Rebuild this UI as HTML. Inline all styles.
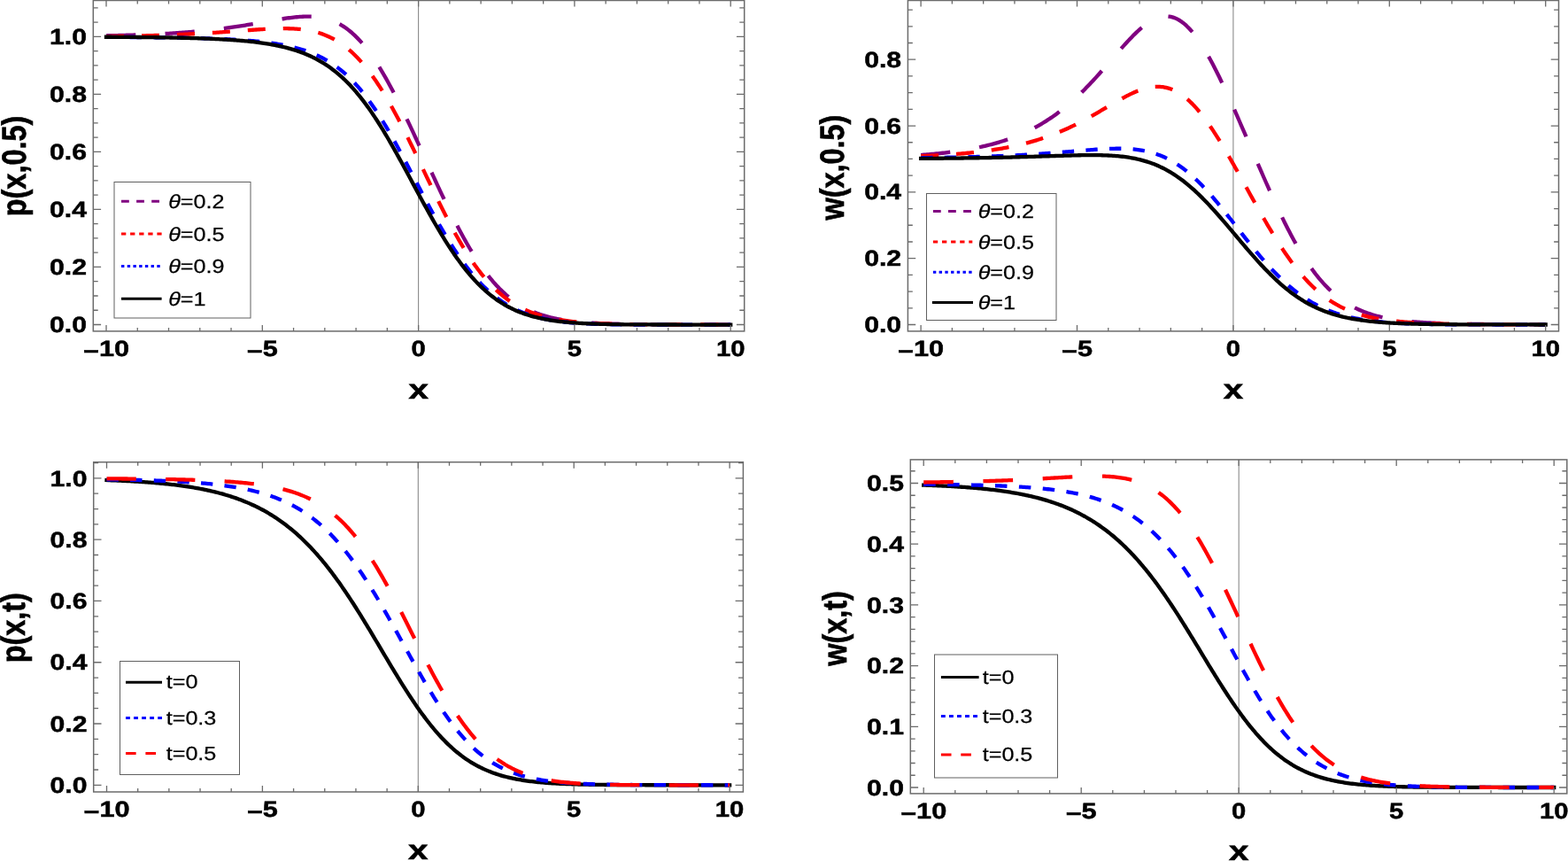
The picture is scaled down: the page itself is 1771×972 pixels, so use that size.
<!DOCTYPE html>
<html><head><meta charset="utf-8"><title>Plots</title><style>html,body{margin:0;padding:0;background:#fff}svg{display:block}</style></head><body>
<svg width="1771" height="972" viewBox="0 0 1771 972">
<rect width="1771" height="972" fill="#fff"/>
<g id="plot1">
<clipPath id="clip1"><rect x="105.30" y="0.50" width="735.40" height="373.40"/></clipPath>
<line x1="472.60" y1="0.50" x2="472.60" y2="373.90" stroke="#8a8a8a" stroke-width="1.1"/>
<g clip-path="url(#clip1)" fill="none" stroke-width="4.30" stroke-linejoin="round">
<path d="M120.00 40.30 L121.76 40.26 L123.53 40.22 L125.29 40.19 L127.05 40.15 L128.82 40.11 L130.58 40.07 L132.34 40.03 L134.10 39.98 L135.87 39.94 L137.63 39.90 L139.39 39.85 L141.16 39.80 L142.92 39.75 L144.68 39.70 L146.45 39.65 L148.21 39.60 L149.97 39.54 L151.73 39.49 L153.50 39.43 L155.26 39.37 L157.02 39.31 L158.79 39.25 L160.55 39.18 L162.31 39.11 L164.08 39.05 L165.84 38.98 L167.60 38.91 L169.36 38.83 L171.13 38.76 L172.89 38.68 L174.65 38.60 L176.42 38.52 L178.18 38.43 L179.94 38.35 L181.71 38.26 L183.47 38.17 L185.23 38.07 L186.99 37.98 L188.76 37.88 L190.52 37.78 L192.28 37.67 L194.05 37.57 L195.81 37.46 L197.57 37.35 L199.34 37.23 L201.10 37.11 L202.86 36.99 L204.62 36.87 L206.39 36.74 L208.15 36.61 L209.91 36.48 L211.68 36.34 L213.44 36.20 L215.20 36.06 L216.97 35.91 L218.73 35.76 L220.49 35.60 L222.25 35.45 L224.02 35.28 L225.78 35.12 L227.54 34.95 L229.31 34.78 L231.07 34.60 L232.83 34.42 L234.60 34.23 L236.36 34.04 L238.12 33.85 L239.88 33.65 L241.65 33.45 L243.41 33.24 L245.17 33.03 L246.94 32.82 L248.70 32.60 L250.46 32.38 L252.23 32.15 L253.99 31.92 L255.75 31.68 L257.51 31.44 L259.28 31.19 L261.04 30.94 L262.80 30.69 L264.57 30.43 L266.33 30.17 L268.09 29.90 L269.86 29.63 L271.62 29.36 L273.38 29.08 L275.14 28.80 L276.91 28.51 L278.67 28.22 L280.43 27.93 L282.20 27.64 L283.96 27.34 L285.72 27.04 L287.49 26.73 L289.25 26.43 L291.01 26.12 L292.77 25.81 L294.54 25.50 L296.30 25.19 L298.06 24.87 L299.83 24.56 L301.59 24.25 L303.35 23.94 L305.12 23.63 L306.88 23.32 L308.64 23.01 L310.40 22.71 L312.17 22.41 L313.93 22.12 L315.69 21.83 L317.46 21.55 L319.22 21.27 L320.98 21.00 L322.75 20.74 L324.51 20.49 L326.27 20.25 L328.03 20.02 L329.80 19.81 L331.56 19.61 L333.32 19.42 L335.09 19.25 L336.85 19.10 L338.61 18.97 L340.38 18.86 L342.14 18.77 L343.90 18.70 L345.66 18.66 L347.43 18.65 L349.19 18.66 L350.95 18.70 L352.72 18.78 L354.48 18.89 L356.24 19.04 L358.00 19.22 L359.77 19.44 L361.53 19.70 L363.29 20.01 L365.06 20.36 L366.82 20.76 L368.58 21.20 L370.35 21.70 L372.11 22.25 L373.87 22.86 L375.64 23.52 L377.40 24.24 L379.16 25.02 L380.92 25.86 L382.69 26.76 L384.45 27.74 L386.21 28.77 L387.98 29.88 L389.74 31.06 L391.50 32.30 L393.27 33.62 L395.03 35.02 L396.79 36.48 L398.55 38.03 L400.32 39.64 L402.08 41.34 L403.84 43.11 L405.61 44.96 L407.37 46.89 L409.13 48.90 L410.90 50.98 L412.66 53.14 L414.42 55.38 L416.18 57.69 L417.95 60.08 L419.71 62.55 L421.47 65.09 L423.24 67.70 L425.00 70.38 L426.76 73.13 L428.53 75.95 L430.29 78.83 L432.05 81.78 L433.81 84.79 L435.58 87.86 L437.34 90.99 L439.10 94.18 L440.87 97.42 L442.63 100.72 L444.39 104.06 L446.16 107.45 L447.92 110.88 L449.68 114.36 L451.44 117.88 L453.21 121.43 L454.97 125.02 L456.73 128.65 L458.50 132.30 L460.26 135.98 L462.02 139.69 L463.79 143.42 L465.55 147.17 L467.31 150.94 L469.07 154.73 L470.84 158.54 L472.60 162.35 L474.36 166.18 L476.13 170.01 L477.89 173.85 L479.65 177.69 L481.42 181.53 L483.18 185.37 L484.94 189.21 L486.70 193.05 L488.47 196.87 L490.23 200.69 L491.99 204.50 L493.76 208.29 L495.52 212.06 L497.28 215.82 L499.05 219.55 L500.81 223.27 L502.57 226.95 L504.33 230.61 L506.10 234.24 L507.86 237.84 L509.62 241.40 L511.39 244.93 L513.15 248.41 L514.91 251.86 L516.68 255.27 L518.44 258.63 L520.20 261.94 L521.96 265.20 L523.73 268.42 L525.49 271.58 L527.25 274.69 L529.02 277.74 L530.78 280.73 L532.54 283.67 L534.31 286.55 L536.07 289.37 L537.83 292.13 L539.59 294.82 L541.36 297.46 L543.12 300.03 L544.88 302.53 L546.65 304.97 L548.41 307.35 L550.17 309.67 L551.94 311.91 L553.70 314.10 L555.46 316.22 L557.22 318.28 L558.99 320.27 L560.75 322.20 L562.51 324.07 L564.28 325.88 L566.04 327.62 L567.80 329.31 L569.57 330.94 L571.33 332.51 L573.09 334.02 L574.85 335.48 L576.62 336.88 L578.38 338.23 L580.14 339.53 L581.91 340.78 L583.67 341.98 L585.43 343.13 L587.20 344.23 L588.96 345.29 L590.72 346.31 L592.48 347.28 L594.25 348.21 L596.01 349.10 L597.77 349.95 L599.54 350.76 L601.30 351.54 L603.06 352.28 L604.83 352.99 L606.59 353.67 L608.35 354.32 L610.11 354.93 L611.88 355.52 L613.64 356.08 L615.40 356.61 L617.17 357.12 L618.93 357.60 L620.69 358.06 L622.46 358.50 L624.22 358.92 L625.98 359.31 L627.74 359.69 L629.51 360.05 L631.27 360.39 L633.03 360.71 L634.80 361.02 L636.56 361.31 L638.32 361.58 L640.09 361.85 L641.85 362.09 L643.61 362.33 L645.37 362.55 L647.14 362.77 L648.90 362.97 L650.66 363.16 L652.43 363.34 L654.19 363.51 L655.95 363.67 L657.72 363.83 L659.48 363.97 L661.24 364.11 L663.00 364.24 L664.77 364.36 L666.53 364.48 L668.29 364.59 L670.06 364.70 L671.82 364.79 L673.58 364.89 L675.35 364.98 L677.11 365.06 L678.87 365.14 L680.63 365.22 L682.40 365.29 L684.16 365.35 L685.92 365.42 L687.69 365.48 L689.45 365.53 L691.21 365.59 L692.98 365.64 L694.74 365.69 L696.50 365.73 L698.26 365.77 L700.03 365.82 L701.79 365.85 L703.55 365.89 L705.32 365.92 L707.08 365.96 L708.84 365.99 L710.61 366.02 L712.37 366.04 L714.13 366.07 L715.89 366.09 L717.66 366.12 L719.42 366.14 L721.18 366.16 L722.95 366.18 L724.71 366.20 L726.47 366.21 L728.24 366.23 L730.00 366.24 L731.76 366.26 L733.52 366.27 L735.29 366.29 L737.05 366.30 L738.81 366.31 L740.58 366.32 L742.34 366.33 L744.10 366.34 L745.87 366.35 L747.63 366.36 L749.39 366.37 L751.15 366.37 L752.92 366.38 L754.68 366.39 L756.44 366.39 L758.21 366.40 L759.97 366.41 L761.73 366.41 L763.50 366.42 L765.26 366.42 L767.02 366.43 L768.78 366.43 L770.55 366.43 L772.31 366.44 L774.07 366.44 L775.84 366.44 L777.60 366.45 L779.36 366.45 L781.12 366.45 L782.89 366.46 L784.65 366.46 L786.41 366.46 L788.18 366.46 L789.94 366.47 L791.70 366.47 L793.47 366.47 L795.23 366.47 L796.99 366.47 L798.75 366.47 L800.52 366.48 L802.28 366.48 L804.04 366.48 L805.81 366.48 L807.57 366.48 L809.33 366.48 L811.10 366.48 L812.86 366.48 L814.62 366.49 L816.38 366.49 L818.15 366.49 L819.91 366.49 L821.67 366.49 L823.44 366.49 L825.20 366.49" stroke="#800080" stroke-dasharray="33.300 33.280"/>
<path d="M120.00 41.09 L121.76 41.06 L123.53 41.04 L125.29 41.02 L127.05 40.99 L128.82 40.96 L130.58 40.94 L132.34 40.91 L134.10 40.88 L135.87 40.85 L137.63 40.82 L139.39 40.79 L141.16 40.76 L142.92 40.73 L144.68 40.70 L146.45 40.67 L148.21 40.63 L149.97 40.60 L151.73 40.56 L153.50 40.52 L155.26 40.48 L157.02 40.44 L158.79 40.40 L160.55 40.36 L162.31 40.32 L164.08 40.28 L165.84 40.23 L167.60 40.19 L169.36 40.14 L171.13 40.09 L172.89 40.04 L174.65 39.99 L176.42 39.94 L178.18 39.89 L179.94 39.83 L181.71 39.77 L183.47 39.72 L185.23 39.66 L186.99 39.60 L188.76 39.54 L190.52 39.47 L192.28 39.41 L194.05 39.34 L195.81 39.28 L197.57 39.21 L199.34 39.14 L201.10 39.06 L202.86 38.99 L204.62 38.91 L206.39 38.84 L208.15 38.76 L209.91 38.68 L211.68 38.59 L213.44 38.51 L215.20 38.42 L216.97 38.33 L218.73 38.24 L220.49 38.15 L222.25 38.06 L224.02 37.96 L225.78 37.87 L227.54 37.77 L229.31 37.67 L231.07 37.56 L232.83 37.46 L234.60 37.35 L236.36 37.25 L238.12 37.14 L239.88 37.02 L241.65 36.91 L243.41 36.80 L245.17 36.68 L246.94 36.56 L248.70 36.44 L250.46 36.32 L252.23 36.20 L253.99 36.07 L255.75 35.95 L257.51 35.82 L259.28 35.70 L261.04 35.57 L262.80 35.44 L264.57 35.31 L266.33 35.18 L268.09 35.05 L269.86 34.91 L271.62 34.78 L273.38 34.65 L275.14 34.52 L276.91 34.39 L278.67 34.26 L280.43 34.13 L282.20 34.00 L283.96 33.87 L285.72 33.74 L287.49 33.62 L289.25 33.50 L291.01 33.38 L292.77 33.26 L294.54 33.15 L296.30 33.04 L298.06 32.93 L299.83 32.83 L301.59 32.73 L303.35 32.64 L305.12 32.56 L306.88 32.48 L308.64 32.41 L310.40 32.35 L312.17 32.29 L313.93 32.24 L315.69 32.21 L317.46 32.18 L319.22 32.17 L320.98 32.16 L322.75 32.17 L324.51 32.20 L326.27 32.23 L328.03 32.28 L329.80 32.35 L331.56 32.44 L333.32 32.54 L335.09 32.66 L336.85 32.81 L338.61 32.97 L340.38 33.16 L342.14 33.37 L343.90 33.60 L345.66 33.86 L347.43 34.15 L349.19 34.46 L350.95 34.81 L352.72 35.18 L354.48 35.59 L356.24 36.03 L358.00 36.51 L359.77 37.02 L361.53 37.57 L363.29 38.15 L365.06 38.78 L366.82 39.45 L368.58 40.16 L370.35 40.92 L372.11 41.72 L373.87 42.57 L375.64 43.46 L377.40 44.41 L379.16 45.40 L380.92 46.45 L382.69 47.55 L384.45 48.71 L386.21 49.92 L387.98 51.19 L389.74 52.51 L391.50 53.90 L393.27 55.34 L395.03 56.85 L396.79 58.41 L398.55 60.04 L400.32 61.73 L402.08 63.48 L403.84 65.29 L405.61 67.17 L407.37 69.12 L409.13 71.13 L410.90 73.20 L412.66 75.33 L414.42 77.54 L416.18 79.80 L417.95 82.13 L419.71 84.52 L421.47 86.98 L423.24 89.50 L425.00 92.08 L426.76 94.72 L428.53 97.42 L430.29 100.18 L432.05 103.00 L433.81 105.88 L435.58 108.81 L437.34 111.80 L439.10 114.84 L440.87 117.93 L442.63 121.07 L444.39 124.26 L446.16 127.49 L447.92 130.77 L449.68 134.09 L451.44 137.46 L453.21 140.86 L454.97 144.29 L456.73 147.76 L458.50 151.27 L460.26 154.80 L462.02 158.36 L463.79 161.94 L465.55 165.55 L467.31 169.17 L469.07 172.81 L470.84 176.47 L472.60 180.14 L474.36 183.82 L476.13 187.50 L477.89 191.19 L479.65 194.88 L481.42 198.57 L483.18 202.26 L484.94 205.93 L486.70 209.60 L488.47 213.26 L490.23 216.90 L491.99 220.52 L493.76 224.13 L495.52 227.71 L497.28 231.27 L499.05 234.79 L500.81 238.29 L502.57 241.76 L504.33 245.19 L506.10 248.58 L507.86 251.94 L509.62 255.25 L511.39 258.52 L513.15 261.75 L514.91 264.93 L516.68 268.06 L518.44 271.14 L520.20 274.17 L521.96 277.14 L523.73 280.06 L525.49 282.93 L527.25 285.74 L529.02 288.49 L530.78 291.18 L532.54 293.81 L534.31 296.38 L536.07 298.90 L537.83 301.35 L539.59 303.74 L541.36 306.07 L543.12 308.34 L544.88 310.55 L546.65 312.70 L548.41 314.79 L550.17 316.81 L551.94 318.78 L553.70 320.69 L555.46 322.54 L557.22 324.33 L558.99 326.06 L560.75 327.74 L562.51 329.36 L564.28 330.93 L566.04 332.44 L567.80 333.90 L569.57 335.31 L571.33 336.67 L573.09 337.98 L574.85 339.24 L576.62 340.45 L578.38 341.62 L580.14 342.74 L581.91 343.82 L583.67 344.85 L585.43 345.85 L587.20 346.80 L588.96 347.72 L590.72 348.59 L592.48 349.43 L594.25 350.24 L596.01 351.01 L597.77 351.75 L599.54 352.46 L601.30 353.13 L603.06 353.78 L604.83 354.40 L606.59 354.99 L608.35 355.55 L610.11 356.09 L611.88 356.60 L613.64 357.09 L615.40 357.56 L617.17 358.00 L618.93 358.43 L620.69 358.83 L622.46 359.22 L624.22 359.59 L625.98 359.94 L627.74 360.27 L629.51 360.59 L631.27 360.89 L633.03 361.18 L634.80 361.45 L636.56 361.71 L638.32 361.96 L640.09 362.19 L641.85 362.42 L643.61 362.63 L645.37 362.83 L647.14 363.02 L648.90 363.20 L650.66 363.37 L652.43 363.54 L654.19 363.69 L655.95 363.84 L657.72 363.98 L659.48 364.11 L661.24 364.24 L663.00 364.36 L664.77 364.47 L666.53 364.58 L668.29 364.68 L670.06 364.78 L671.82 364.87 L673.58 364.96 L675.35 365.04 L677.11 365.12 L678.87 365.19 L680.63 365.26 L682.40 365.33 L684.16 365.39 L685.92 365.45 L687.69 365.51 L689.45 365.56 L691.21 365.61 L692.98 365.66 L694.74 365.70 L696.50 365.75 L698.26 365.79 L700.03 365.82 L701.79 365.86 L703.55 365.90 L705.32 365.93 L707.08 365.96 L708.84 365.99 L710.61 366.02 L712.37 366.04 L714.13 366.07 L715.89 366.09 L717.66 366.11 L719.42 366.13 L721.18 366.15 L722.95 366.17 L724.71 366.19 L726.47 366.21 L728.24 366.22 L730.00 366.24 L731.76 366.25 L733.52 366.26 L735.29 366.28 L737.05 366.29 L738.81 366.30 L740.58 366.31 L742.34 366.32 L744.10 366.33 L745.87 366.34 L747.63 366.35 L749.39 366.36 L751.15 366.36 L752.92 366.37 L754.68 366.38 L756.44 366.39 L758.21 366.39 L759.97 366.40 L761.73 366.40 L763.50 366.41 L765.26 366.41 L767.02 366.42 L768.78 366.42 L770.55 366.43 L772.31 366.43 L774.07 366.43 L775.84 366.44 L777.60 366.44 L779.36 366.44 L781.12 366.45 L782.89 366.45 L784.65 366.45 L786.41 366.45 L788.18 366.46 L789.94 366.46 L791.70 366.46 L793.47 366.46 L795.23 366.47 L796.99 366.47 L798.75 366.47 L800.52 366.47 L802.28 366.47 L804.04 366.47 L805.81 366.47 L807.57 366.48 L809.33 366.48 L811.10 366.48 L812.86 366.48 L814.62 366.48 L816.38 366.48 L818.15 366.48 L819.91 366.48 L821.67 366.48 L823.44 366.49 L825.20 366.49" stroke="#ff0000" stroke-dasharray="20.000 20.000"/>
<path d="M120.00 41.83 L121.76 41.84 L123.53 41.85 L125.29 41.86 L127.05 41.86 L128.82 41.87 L130.58 41.88 L132.34 41.89 L134.10 41.90 L135.87 41.91 L137.63 41.92 L139.39 41.93 L141.16 41.94 L142.92 41.95 L144.68 41.97 L146.45 41.98 L148.21 41.99 L149.97 42.00 L151.73 42.02 L153.50 42.03 L155.26 42.04 L157.02 42.06 L158.79 42.07 L160.55 42.09 L162.31 42.10 L164.08 42.12 L165.84 42.14 L167.60 42.15 L169.36 42.17 L171.13 42.19 L172.89 42.21 L174.65 42.23 L176.42 42.25 L178.18 42.27 L179.94 42.29 L181.71 42.31 L183.47 42.33 L185.23 42.36 L186.99 42.38 L188.76 42.41 L190.52 42.43 L192.28 42.46 L194.05 42.48 L195.81 42.51 L197.57 42.54 L199.34 42.57 L201.10 42.60 L202.86 42.63 L204.62 42.67 L206.39 42.70 L208.15 42.74 L209.91 42.77 L211.68 42.81 L213.44 42.85 L215.20 42.89 L216.97 42.93 L218.73 42.97 L220.49 43.01 L222.25 43.06 L224.02 43.10 L225.78 43.15 L227.54 43.20 L229.31 43.25 L231.07 43.30 L232.83 43.36 L234.60 43.42 L236.36 43.47 L238.12 43.53 L239.88 43.60 L241.65 43.66 L243.41 43.73 L245.17 43.80 L246.94 43.87 L248.70 43.94 L250.46 44.02 L252.23 44.10 L253.99 44.18 L255.75 44.26 L257.51 44.35 L259.28 44.44 L261.04 44.53 L262.80 44.63 L264.57 44.73 L266.33 44.83 L268.09 44.94 L269.86 45.05 L271.62 45.17 L273.38 45.29 L275.14 45.41 L276.91 45.54 L278.67 45.68 L280.43 45.81 L282.20 45.96 L283.96 46.11 L285.72 46.26 L287.49 46.42 L289.25 46.59 L291.01 46.76 L292.77 46.94 L294.54 47.13 L296.30 47.33 L298.06 47.53 L299.83 47.74 L301.59 47.96 L303.35 48.18 L305.12 48.42 L306.88 48.67 L308.64 48.92 L310.40 49.19 L312.17 49.46 L313.93 49.75 L315.69 50.05 L317.46 50.36 L319.22 50.69 L320.98 51.02 L322.75 51.38 L324.51 51.74 L326.27 52.12 L328.03 52.52 L329.80 52.93 L331.56 53.36 L333.32 53.81 L335.09 54.28 L336.85 54.76 L338.61 55.27 L340.38 55.80 L342.14 56.35 L343.90 56.92 L345.66 57.52 L347.43 58.14 L349.19 58.78 L350.95 59.46 L352.72 60.16 L354.48 60.89 L356.24 61.65 L358.00 62.44 L359.77 63.26 L361.53 64.11 L363.29 65.00 L365.06 65.93 L366.82 66.89 L368.58 67.88 L370.35 68.92 L372.11 70.00 L373.87 71.11 L375.64 72.27 L377.40 73.48 L379.16 74.72 L380.92 76.02 L382.69 77.36 L384.45 78.74 L386.21 80.18 L387.98 81.66 L389.74 83.20 L391.50 84.78 L393.27 86.42 L395.03 88.12 L396.79 89.86 L398.55 91.66 L400.32 93.52 L402.08 95.43 L403.84 97.40 L405.61 99.42 L407.37 101.50 L409.13 103.63 L410.90 105.83 L412.66 108.07 L414.42 110.38 L416.18 112.74 L417.95 115.16 L419.71 117.63 L421.47 120.15 L423.24 122.73 L425.00 125.37 L426.76 128.05 L428.53 130.78 L430.29 133.57 L432.05 136.40 L433.81 139.27 L435.58 142.20 L437.34 145.16 L439.10 148.17 L440.87 151.22 L442.63 154.30 L444.39 157.42 L446.16 160.57 L447.92 163.75 L449.68 166.97 L451.44 170.20 L453.21 173.47 L454.97 176.75 L456.73 180.05 L458.50 183.37 L460.26 186.71 L462.02 190.05 L463.79 193.41 L465.55 196.77 L467.31 200.14 L469.07 203.50 L470.84 206.87 L472.60 210.23 L474.36 213.59 L476.13 216.94 L477.89 220.28 L479.65 223.60 L481.42 226.91 L483.18 230.20 L484.94 233.48 L486.70 236.73 L488.47 239.95 L490.23 243.15 L491.99 246.33 L493.76 249.47 L495.52 252.58 L497.28 255.66 L499.05 258.70 L500.81 261.71 L502.57 264.68 L504.33 267.61 L506.10 270.50 L507.86 273.34 L509.62 276.15 L511.39 278.91 L513.15 281.62 L514.91 284.29 L516.68 286.91 L518.44 289.48 L520.20 292.00 L521.96 294.47 L523.73 296.89 L525.49 299.27 L527.25 301.59 L529.02 303.86 L530.78 306.08 L532.54 308.24 L534.31 310.36 L536.07 312.42 L537.83 314.43 L539.59 316.39 L541.36 318.29 L543.12 320.15 L544.88 321.95 L546.65 323.70 L548.41 325.40 L550.17 327.06 L551.94 328.66 L553.70 330.21 L555.46 331.72 L557.22 333.17 L558.99 334.58 L560.75 335.95 L562.51 337.26 L564.28 338.54 L566.04 339.77 L567.80 340.95 L569.57 342.10 L571.33 343.20 L573.09 344.26 L574.85 345.28 L576.62 346.27 L578.38 347.22 L580.14 348.13 L581.91 349.00 L583.67 349.84 L585.43 350.64 L587.20 351.42 L588.96 352.16 L590.72 352.87 L592.48 353.55 L594.25 354.20 L596.01 354.83 L597.77 355.42 L599.54 355.99 L601.30 356.54 L603.06 357.06 L604.83 357.56 L606.59 358.03 L608.35 358.48 L610.11 358.92 L611.88 359.33 L613.64 359.72 L615.40 360.09 L617.17 360.45 L618.93 360.79 L620.69 361.11 L622.46 361.42 L624.22 361.71 L625.98 361.98 L627.74 362.25 L629.51 362.50 L631.27 362.73 L633.03 362.96 L634.80 363.17 L636.56 363.37 L638.32 363.57 L640.09 363.75 L641.85 363.92 L643.61 364.08 L645.37 364.24 L647.14 364.38 L648.90 364.52 L650.66 364.65 L652.43 364.77 L654.19 364.89 L655.95 365.00 L657.72 365.10 L659.48 365.20 L661.24 365.29 L663.00 365.38 L664.77 365.46 L666.53 365.54 L668.29 365.61 L670.06 365.68 L671.82 365.74 L673.58 365.80 L675.35 365.86 L677.11 365.91 L678.87 365.96 L680.63 366.01 L682.40 366.05 L684.16 366.09 L685.92 366.13 L687.69 366.17 L689.45 366.20 L691.21 366.23 L692.98 366.26 L694.74 366.29 L696.50 366.31 L698.26 366.34 L700.03 366.36 L701.79 366.38 L703.55 366.40 L705.32 366.42 L707.08 366.43 L708.84 366.45 L710.61 366.46 L712.37 366.48 L714.13 366.49 L715.89 366.50 L717.66 366.51 L719.42 366.52 L721.18 366.53 L722.95 366.54 L724.71 366.54 L726.47 366.55 L728.24 366.56 L730.00 366.56 L731.76 366.57 L733.52 366.57 L735.29 366.57 L737.05 366.58 L738.81 366.58 L740.58 366.58 L742.34 366.59 L744.10 366.59 L745.87 366.59 L747.63 366.59 L749.39 366.59 L751.15 366.59 L752.92 366.59 L754.68 366.59 L756.44 366.59 L758.21 366.59 L759.97 366.59 L761.73 366.59 L763.50 366.59 L765.26 366.59 L767.02 366.59 L768.78 366.59 L770.55 366.59 L772.31 366.59 L774.07 366.59 L775.84 366.59 L777.60 366.59 L779.36 366.59 L781.12 366.59 L782.89 366.58 L784.65 366.58 L786.41 366.58 L788.18 366.58 L789.94 366.58 L791.70 366.58 L793.47 366.58 L795.23 366.58 L796.99 366.57 L798.75 366.57 L800.52 366.57 L802.28 366.57 L804.04 366.57 L805.81 366.57 L807.57 366.57 L809.33 366.57 L811.10 366.56 L812.86 366.56 L814.62 366.56 L816.38 366.56 L818.15 366.56 L819.91 366.56 L821.67 366.56 L823.44 366.55 L825.20 366.55" stroke="#0000ff" stroke-dasharray="13.350 13.300"/>
<path d="M120.00 41.74 L121.76 41.75 L123.53 41.76 L125.29 41.77 L127.05 41.78 L128.82 41.79 L130.58 41.80 L132.34 41.81 L134.10 41.82 L135.87 41.83 L137.63 41.84 L139.39 41.86 L141.16 41.87 L142.92 41.88 L144.68 41.90 L146.45 41.91 L148.21 41.92 L149.97 41.94 L151.73 41.95 L153.50 41.97 L155.26 41.99 L157.02 42.00 L158.79 42.02 L160.55 42.04 L162.31 42.06 L164.08 42.07 L165.84 42.09 L167.60 42.11 L169.36 42.14 L171.13 42.16 L172.89 42.18 L174.65 42.20 L176.42 42.23 L178.18 42.25 L179.94 42.27 L181.71 42.30 L183.47 42.33 L185.23 42.36 L186.99 42.38 L188.76 42.41 L190.52 42.44 L192.28 42.48 L194.05 42.51 L195.81 42.54 L197.57 42.58 L199.34 42.61 L201.10 42.65 L202.86 42.69 L204.62 42.73 L206.39 42.77 L208.15 42.81 L209.91 42.85 L211.68 42.90 L213.44 42.94 L215.20 42.99 L216.97 43.04 L218.73 43.09 L220.49 43.15 L222.25 43.20 L224.02 43.26 L225.78 43.32 L227.54 43.38 L229.31 43.44 L231.07 43.50 L232.83 43.57 L234.60 43.64 L236.36 43.71 L238.12 43.79 L239.88 43.86 L241.65 43.94 L243.41 44.03 L245.17 44.11 L246.94 44.20 L248.70 44.29 L250.46 44.39 L252.23 44.49 L253.99 44.59 L255.75 44.69 L257.51 44.80 L259.28 44.92 L261.04 45.04 L262.80 45.16 L264.57 45.28 L266.33 45.42 L268.09 45.55 L269.86 45.69 L271.62 45.84 L273.38 45.99 L275.14 46.15 L276.91 46.31 L278.67 46.48 L280.43 46.66 L282.20 46.84 L283.96 47.03 L285.72 47.23 L287.49 47.43 L289.25 47.65 L291.01 47.87 L292.77 48.10 L294.54 48.34 L296.30 48.58 L298.06 48.84 L299.83 49.11 L301.59 49.38 L303.35 49.67 L305.12 49.97 L306.88 50.28 L308.64 50.61 L310.40 50.94 L312.17 51.29 L313.93 51.65 L315.69 52.03 L317.46 52.42 L319.22 52.83 L320.98 53.25 L322.75 53.69 L324.51 54.15 L326.27 54.62 L328.03 55.11 L329.80 55.63 L331.56 56.16 L333.32 56.71 L335.09 57.29 L336.85 57.88 L338.61 58.50 L340.38 59.15 L342.14 59.81 L343.90 60.51 L345.66 61.23 L347.43 61.97 L349.19 62.75 L350.95 63.55 L352.72 64.39 L354.48 65.25 L356.24 66.15 L358.00 67.08 L359.77 68.04 L361.53 69.04 L363.29 70.08 L365.06 71.15 L366.82 72.26 L368.58 73.40 L370.35 74.59 L372.11 75.82 L373.87 77.09 L375.64 78.40 L377.40 79.75 L379.16 81.15 L380.92 82.60 L382.69 84.09 L384.45 85.63 L386.21 87.21 L387.98 88.84 L389.74 90.52 L391.50 92.25 L393.27 94.03 L395.03 95.86 L396.79 97.74 L398.55 99.68 L400.32 101.66 L402.08 103.70 L403.84 105.78 L405.61 107.92 L407.37 110.11 L409.13 112.35 L410.90 114.65 L412.66 116.99 L414.42 119.39 L416.18 121.83 L417.95 124.33 L419.71 126.87 L421.47 129.46 L423.24 132.10 L425.00 134.78 L426.76 137.51 L428.53 140.28 L430.29 143.10 L432.05 145.96 L433.81 148.85 L435.58 151.79 L437.34 154.76 L439.10 157.76 L440.87 160.80 L442.63 163.87 L444.39 166.96 L446.16 170.09 L447.92 173.24 L449.68 176.41 L451.44 179.60 L453.21 182.81 L454.97 186.04 L456.73 189.28 L458.50 192.53 L460.26 195.80 L462.02 199.06 L463.79 202.34 L465.55 205.61 L467.31 208.89 L469.07 212.16 L470.84 215.43 L472.60 218.69 L474.36 221.94 L476.13 225.18 L477.89 228.41 L479.65 231.62 L481.42 234.82 L483.18 237.99 L484.94 241.14 L486.70 244.27 L488.47 247.37 L490.23 250.45 L491.99 253.49 L493.76 256.50 L495.52 259.49 L497.28 262.43 L499.05 265.34 L500.81 268.21 L502.57 271.05 L504.33 273.84 L506.10 276.59 L507.86 279.30 L509.62 281.97 L511.39 284.59 L513.15 287.17 L514.91 289.70 L516.68 292.18 L518.44 294.61 L520.20 297.00 L521.96 299.34 L523.73 301.62 L525.49 303.86 L527.25 306.05 L529.02 308.18 L530.78 310.27 L532.54 312.30 L534.31 314.29 L536.07 316.22 L537.83 318.10 L539.59 319.94 L541.36 321.72 L543.12 323.45 L544.88 325.13 L546.65 326.77 L548.41 328.35 L550.17 329.89 L551.94 331.38 L553.70 332.82 L555.46 334.22 L557.22 335.57 L558.99 336.88 L560.75 338.14 L562.51 339.36 L564.28 340.54 L566.04 341.67 L567.80 342.77 L569.57 343.82 L571.33 344.84 L573.09 345.82 L574.85 346.76 L576.62 347.67 L578.38 348.54 L580.14 349.37 L581.91 350.18 L583.67 350.95 L585.43 351.69 L587.20 352.40 L588.96 353.08 L590.72 353.73 L592.48 354.35 L594.25 354.95 L596.01 355.52 L597.77 356.07 L599.54 356.59 L601.30 357.09 L603.06 357.57 L604.83 358.03 L606.59 358.46 L608.35 358.88 L610.11 359.27 L611.88 359.65 L613.64 360.01 L615.40 360.35 L617.17 360.68 L618.93 360.99 L620.69 361.29 L622.46 361.57 L624.22 361.84 L625.98 362.09 L627.74 362.34 L629.51 362.57 L631.27 362.79 L633.03 362.99 L634.80 363.19 L636.56 363.38 L638.32 363.56 L640.09 363.72 L641.85 363.88 L643.61 364.04 L645.37 364.18 L647.14 364.32 L648.90 364.44 L650.66 364.57 L652.43 364.68 L654.19 364.79 L655.95 364.90 L657.72 364.99 L659.48 365.09 L661.24 365.17 L663.00 365.26 L664.77 365.33 L666.53 365.41 L668.29 365.48 L670.06 365.54 L671.82 365.60 L673.58 365.66 L675.35 365.72 L677.11 365.77 L678.87 365.82 L680.63 365.87 L682.40 365.91 L684.16 365.95 L685.92 365.99 L687.69 366.02 L689.45 366.06 L691.21 366.09 L692.98 366.12 L694.74 366.15 L696.50 366.18 L698.26 366.20 L700.03 366.22 L701.79 366.25 L703.55 366.27 L705.32 366.29 L707.08 366.30 L708.84 366.32 L710.61 366.34 L712.37 366.35 L714.13 366.37 L715.89 366.38 L717.66 366.39 L719.42 366.40 L721.18 366.41 L722.95 366.42 L724.71 366.43 L726.47 366.44 L728.24 366.45 L730.00 366.46 L731.76 366.46 L733.52 366.47 L735.29 366.47 L737.05 366.48 L738.81 366.49 L740.58 366.49 L742.34 366.49 L744.10 366.50 L745.87 366.50 L747.63 366.51 L749.39 366.51 L751.15 366.51 L752.92 366.51 L754.68 366.52 L756.44 366.52 L758.21 366.52 L759.97 366.52 L761.73 366.52 L763.50 366.52 L765.26 366.53 L767.02 366.53 L768.78 366.53 L770.55 366.53 L772.31 366.53 L774.07 366.53 L775.84 366.53 L777.60 366.53 L779.36 366.53 L781.12 366.53 L782.89 366.53 L784.65 366.53 L786.41 366.53 L788.18 366.53 L789.94 366.53 L791.70 366.53 L793.47 366.53 L795.23 366.53 L796.99 366.53 L798.75 366.53 L800.52 366.53 L802.28 366.53 L804.04 366.53 L805.81 366.53 L807.57 366.53 L809.33 366.53 L811.10 366.53 L812.86 366.53 L814.62 366.53 L816.38 366.53 L818.15 366.53 L819.91 366.53 L821.67 366.53 L823.44 366.53 L825.20 366.53" stroke="#000" stroke-linecap="square"/>
</g>
<path d="M120.00 373.90v-7.00M120.00 0.50v7.00M155.26 373.90v-4.00M155.26 0.50v4.00M190.52 373.90v-4.00M190.52 0.50v4.00M225.78 373.90v-4.00M225.78 0.50v4.00M261.04 373.90v-4.00M261.04 0.50v4.00M296.30 373.90v-7.00M296.30 0.50v7.00M331.56 373.90v-4.00M331.56 0.50v4.00M366.82 373.90v-4.00M366.82 0.50v4.00M402.08 373.90v-4.00M402.08 0.50v4.00M437.34 373.90v-4.00M437.34 0.50v4.00M472.60 373.90v-7.00M472.60 0.50v7.00M507.86 373.90v-4.00M507.86 0.50v4.00M543.12 373.90v-4.00M543.12 0.50v4.00M578.38 373.90v-4.00M578.38 0.50v4.00M613.64 373.90v-4.00M613.64 0.50v4.00M648.90 373.90v-7.00M648.90 0.50v7.00M684.16 373.90v-4.00M684.16 0.50v4.00M719.42 373.90v-4.00M719.42 0.50v4.00M754.68 373.90v-4.00M754.68 0.50v4.00M789.94 373.90v-4.00M789.94 0.50v4.00M825.20 373.90v-7.00M825.20 0.50v7.00M105.30 366.50h8.80M840.70 366.50h-8.80M105.30 350.24h5.40M840.70 350.24h-5.40M105.30 333.98h5.40M840.70 333.98h-5.40M105.30 317.72h5.40M840.70 317.72h-5.40M105.30 301.46h8.80M840.70 301.46h-8.80M105.30 285.20h5.40M840.70 285.20h-5.40M105.30 268.94h5.40M840.70 268.94h-5.40M105.30 252.68h5.40M840.70 252.68h-5.40M105.30 236.42h8.80M840.70 236.42h-8.80M105.30 220.16h5.40M840.70 220.16h-5.40M105.30 203.90h5.40M840.70 203.90h-5.40M105.30 187.64h5.40M840.70 187.64h-5.40M105.30 171.38h8.80M840.70 171.38h-8.80M105.30 155.12h5.40M840.70 155.12h-5.40M105.30 138.86h5.40M840.70 138.86h-5.40M105.30 122.60h5.40M840.70 122.60h-5.40M105.30 106.34h8.80M840.70 106.34h-8.80M105.30 90.08h5.40M840.70 90.08h-5.40M105.30 73.82h5.40M840.70 73.82h-5.40M105.30 57.56h5.40M840.70 57.56h-5.40M105.30 41.30h8.80M840.70 41.30h-8.80M105.30 25.04h5.40M840.70 25.04h-5.40M105.30 8.78h5.40M840.70 8.78h-5.40" stroke="#6b6b6b" stroke-width="1.3" fill="none"/>
<rect x="105.30" y="0.50" width="735.40" height="373.40" fill="none" stroke="#6b6b6b" stroke-width="1.5"/>
<g fill="#000">
<text transform="translate(120.00 402.05) scale(1.2270 1)" font-family="Liberation Sans, sans-serif" text-rendering="geometricPrecision" font-size="25.00" font-weight="bold" text-anchor="middle" stroke="#000" stroke-width="0.5"><tspan dy="3.1">−</tspan><tspan dy="-3.1">10</tspan></text>
<text transform="translate(296.30 402.05) scale(1.2270 1)" font-family="Liberation Sans, sans-serif" text-rendering="geometricPrecision" font-size="25.00" font-weight="bold" text-anchor="middle" stroke="#000" stroke-width="0.5"><tspan dy="3.1">−</tspan><tspan dy="-3.1">5</tspan></text>
<text transform="translate(472.60 402.05) scale(1.1680 1)" font-family="Liberation Sans, sans-serif" text-rendering="geometricPrecision" font-size="25.00" font-weight="bold" text-anchor="middle" stroke="#000" stroke-width="0.5">0</text>
<text transform="translate(648.90 402.05) scale(1.1680 1)" font-family="Liberation Sans, sans-serif" text-rendering="geometricPrecision" font-size="25.00" font-weight="bold" text-anchor="middle" stroke="#000" stroke-width="0.5">5</text>
<text transform="translate(825.20 402.05) scale(1.1680 1)" font-family="Liberation Sans, sans-serif" text-rendering="geometricPrecision" font-size="25.00" font-weight="bold" text-anchor="middle" stroke="#000" stroke-width="0.5">10</text>
<text transform="translate(98.00 375.10) scale(1.2050 1)" font-family="Liberation Sans, sans-serif" text-rendering="geometricPrecision" font-size="25.00" font-weight="bold" text-anchor="end" stroke="#000" stroke-width="0.5">0.0</text>
<text transform="translate(98.00 310.06) scale(1.2050 1)" font-family="Liberation Sans, sans-serif" text-rendering="geometricPrecision" font-size="25.00" font-weight="bold" text-anchor="end" stroke="#000" stroke-width="0.5">0.2</text>
<text transform="translate(98.00 245.02) scale(1.2050 1)" font-family="Liberation Sans, sans-serif" text-rendering="geometricPrecision" font-size="25.00" font-weight="bold" text-anchor="end" stroke="#000" stroke-width="0.5">0.4</text>
<text transform="translate(98.00 179.98) scale(1.2050 1)" font-family="Liberation Sans, sans-serif" text-rendering="geometricPrecision" font-size="25.00" font-weight="bold" text-anchor="end" stroke="#000" stroke-width="0.5">0.6</text>
<text transform="translate(98.00 114.94) scale(1.2050 1)" font-family="Liberation Sans, sans-serif" text-rendering="geometricPrecision" font-size="25.00" font-weight="bold" text-anchor="end" stroke="#000" stroke-width="0.5">0.8</text>
<text transform="translate(98.00 49.90) scale(1.2050 1)" font-family="Liberation Sans, sans-serif" text-rendering="geometricPrecision" font-size="25.00" font-weight="bold" text-anchor="end" stroke="#000" stroke-width="0.5">1.0</text>
<text transform="translate(472.60 449.60) scale(1.3070 1)" font-family="Liberation Sans, sans-serif" text-rendering="geometricPrecision" font-size="30.80" font-weight="bold" text-anchor="middle" stroke="#000" stroke-width="0.6">x</text>
<text transform="translate(28.90 187.50) scale(1.1800 1) rotate(-90)" font-family="Liberation Sans, sans-serif" text-rendering="geometricPrecision" font-size="32.40" font-weight="bold" text-anchor="middle" stroke="#000" stroke-width="0.6">p(x,0.5)</text>
</g>
<rect x="129.00" y="205.50" width="154.00" height="153.50" fill="#fff" stroke="#606060" stroke-width="1"/>
<g fill="#000">
<line x1="137.00" y1="227.30" x2="182.60" y2="227.30" stroke="#800080" stroke-width="3" stroke-dasharray="8.8 8.3"/>
<text transform="translate(190.20 234.80) scale(1.1600 1)" font-family="Liberation Sans, sans-serif" text-rendering="geometricPrecision" font-size="21.70" font-weight="normal" text-anchor="start" stroke="#000" stroke-width="0.25"><tspan font-style="italic">θ</tspan>=0.2</text>
<line x1="137.00" y1="264.10" x2="182.60" y2="264.10" stroke="#ff0000" stroke-width="3" stroke-dasharray="5.3 4.8"/>
<text transform="translate(190.20 271.60) scale(1.1600 1)" font-family="Liberation Sans, sans-serif" text-rendering="geometricPrecision" font-size="21.70" font-weight="normal" text-anchor="start" stroke="#000" stroke-width="0.25"><tspan font-style="italic">θ</tspan>=0.5</text>
<line x1="137.00" y1="300.60" x2="182.60" y2="300.60" stroke="#0000ff" stroke-width="3" stroke-dasharray="3.4 3.32"/>
<text transform="translate(190.20 308.10) scale(1.1600 1)" font-family="Liberation Sans, sans-serif" text-rendering="geometricPrecision" font-size="21.70" font-weight="normal" text-anchor="start" stroke="#000" stroke-width="0.25"><tspan font-style="italic">θ</tspan>=0.9</text>
<line x1="137.00" y1="337.20" x2="182.60" y2="337.20" stroke="#000" stroke-width="3"/>
<text transform="translate(190.20 344.70) scale(1.1600 1)" font-family="Liberation Sans, sans-serif" text-rendering="geometricPrecision" font-size="21.70" font-weight="normal" text-anchor="start" stroke="#000" stroke-width="0.25"><tspan font-style="italic">θ</tspan>=1</text>
</g>
</g>
<g id="plot2">
<clipPath id="clip2"><rect x="1025.40" y="0.50" width="735.10" height="373.40"/></clipPath>
<line x1="1392.90" y1="0.50" x2="1392.90" y2="373.90" stroke="#8a8a8a" stroke-width="1.1"/>
<g clip-path="url(#clip2)" fill="none" stroke-width="4.30" stroke-linejoin="round">
<path d="M1040.10 175.03 L1041.86 174.90 L1043.63 174.76 L1045.39 174.62 L1047.16 174.47 L1048.92 174.32 L1050.68 174.16 L1052.45 174.00 L1054.21 173.84 L1055.98 173.67 L1057.74 173.50 L1059.50 173.32 L1061.27 173.13 L1063.03 172.94 L1064.80 172.75 L1066.56 172.55 L1068.32 172.34 L1070.09 172.13 L1071.85 171.91 L1073.62 171.69 L1075.38 171.46 L1077.14 171.22 L1078.91 170.98 L1080.67 170.73 L1082.44 170.47 L1084.20 170.21 L1085.96 169.93 L1087.73 169.65 L1089.49 169.37 L1091.26 169.07 L1093.02 168.77 L1094.78 168.45 L1096.55 168.13 L1098.31 167.80 L1100.08 167.46 L1101.84 167.12 L1103.60 166.76 L1105.37 166.39 L1107.13 166.01 L1108.90 165.62 L1110.66 165.22 L1112.42 164.81 L1114.19 164.39 L1115.95 163.96 L1117.72 163.51 L1119.48 163.06 L1121.24 162.59 L1123.01 162.11 L1124.77 161.61 L1126.54 161.10 L1128.30 160.58 L1130.06 160.04 L1131.83 159.49 L1133.59 158.93 L1135.36 158.35 L1137.12 157.75 L1138.88 157.14 L1140.65 156.52 L1142.41 155.87 L1144.18 155.21 L1145.94 154.54 L1147.70 153.84 L1149.47 153.13 L1151.23 152.40 L1153.00 151.65 L1154.76 150.88 L1156.52 150.09 L1158.29 149.28 L1160.05 148.46 L1161.82 147.61 L1163.58 146.74 L1165.34 145.85 L1167.11 144.94 L1168.87 144.00 L1170.64 143.04 L1172.40 142.06 L1174.16 141.06 L1175.93 140.03 L1177.69 138.98 L1179.46 137.91 L1181.22 136.81 L1182.98 135.68 L1184.75 134.53 L1186.51 133.36 L1188.28 132.16 L1190.04 130.93 L1191.80 129.67 L1193.57 128.39 L1195.33 127.08 L1197.10 125.75 L1198.86 124.39 L1200.62 123.00 L1202.39 121.58 L1204.15 120.13 L1205.92 118.66 L1207.68 117.16 L1209.44 115.63 L1211.21 114.07 L1212.97 112.49 L1214.74 110.88 L1216.50 109.24 L1218.26 107.57 L1220.03 105.88 L1221.79 104.16 L1223.56 102.42 L1225.32 100.65 L1227.08 98.85 L1228.85 97.04 L1230.61 95.19 L1232.38 93.33 L1234.14 91.44 L1235.90 89.54 L1237.67 87.61 L1239.43 85.66 L1241.20 83.70 L1242.96 81.72 L1244.72 79.73 L1246.49 77.72 L1248.25 75.71 L1250.02 73.68 L1251.78 71.65 L1253.54 69.61 L1255.31 67.56 L1257.07 65.52 L1258.84 63.48 L1260.60 61.44 L1262.36 59.41 L1264.13 57.38 L1265.89 55.37 L1267.66 53.38 L1269.42 51.40 L1271.18 49.44 L1272.95 47.51 L1274.71 45.61 L1276.48 43.74 L1278.24 41.90 L1280.00 40.10 L1281.77 38.35 L1283.53 36.64 L1285.30 34.99 L1287.06 33.38 L1288.82 31.84 L1290.59 30.36 L1292.35 28.95 L1294.12 27.61 L1295.88 26.34 L1297.64 25.15 L1299.41 24.05 L1301.17 23.03 L1302.94 22.11 L1304.70 21.28 L1306.46 20.55 L1308.23 19.92 L1309.99 19.40 L1311.76 18.98 L1313.52 18.68 L1315.28 18.49 L1317.05 18.42 L1318.81 18.48 L1320.58 18.65 L1322.34 18.95 L1324.10 19.37 L1325.87 19.92 L1327.63 20.60 L1329.40 21.40 L1331.16 22.34 L1332.92 23.41 L1334.69 24.60 L1336.45 25.93 L1338.22 27.38 L1339.98 28.96 L1341.74 30.67 L1343.51 32.50 L1345.27 34.45 L1347.04 36.52 L1348.80 38.70 L1350.56 41.00 L1352.33 43.42 L1354.09 45.94 L1355.86 48.56 L1357.62 51.29 L1359.38 54.11 L1361.15 57.02 L1362.91 60.03 L1364.68 63.12 L1366.44 66.29 L1368.20 69.54 L1369.97 72.86 L1371.73 76.25 L1373.50 79.71 L1375.26 83.23 L1377.02 86.81 L1378.79 90.44 L1380.55 94.12 L1382.32 97.84 L1384.08 101.61 L1385.84 105.42 L1387.61 109.27 L1389.37 113.15 L1391.14 117.06 L1392.90 121.00 L1394.66 124.97 L1396.43 128.95 L1398.19 132.96 L1399.96 136.99 L1401.72 141.03 L1403.48 145.08 L1405.25 149.15 L1407.01 153.22 L1408.78 157.30 L1410.54 161.38 L1412.30 165.47 L1414.07 169.56 L1415.83 173.65 L1417.60 177.73 L1419.36 181.80 L1421.12 185.87 L1422.89 189.93 L1424.65 193.97 L1426.42 198.00 L1428.18 202.01 L1429.94 206.00 L1431.71 209.97 L1433.47 213.92 L1435.24 217.83 L1437.00 221.72 L1438.76 225.58 L1440.53 229.40 L1442.29 233.18 L1444.06 236.92 L1445.82 240.62 L1447.58 244.28 L1449.35 247.89 L1451.11 251.45 L1452.88 254.96 L1454.64 258.42 L1456.40 261.82 L1458.17 265.17 L1459.93 268.45 L1461.70 271.68 L1463.46 274.84 L1465.22 277.95 L1466.99 280.98 L1468.75 283.95 L1470.52 286.86 L1472.28 289.70 L1474.04 292.47 L1475.81 295.17 L1477.57 297.81 L1479.34 300.37 L1481.10 302.87 L1482.86 305.30 L1484.63 307.65 L1486.39 309.94 L1488.16 312.17 L1489.92 314.32 L1491.68 316.41 L1493.45 318.43 L1495.21 320.39 L1496.98 322.28 L1498.74 324.10 L1500.50 325.87 L1502.27 327.57 L1504.03 329.22 L1505.80 330.80 L1507.56 332.33 L1509.32 333.80 L1511.09 335.21 L1512.85 336.57 L1514.62 337.88 L1516.38 339.14 L1518.14 340.35 L1519.91 341.51 L1521.67 342.62 L1523.44 343.69 L1525.20 344.71 L1526.96 345.70 L1528.73 346.64 L1530.49 347.54 L1532.26 348.40 L1534.02 349.23 L1535.78 350.02 L1537.55 350.77 L1539.31 351.49 L1541.08 352.19 L1542.84 352.85 L1544.60 353.48 L1546.37 354.08 L1548.13 354.65 L1549.90 355.20 L1551.66 355.73 L1553.42 356.23 L1555.19 356.71 L1556.95 357.16 L1558.72 357.60 L1560.48 358.01 L1562.24 358.40 L1564.01 358.78 L1565.77 359.14 L1567.54 359.48 L1569.30 359.81 L1571.06 360.12 L1572.83 360.41 L1574.59 360.70 L1576.36 360.97 L1578.12 361.22 L1579.88 361.47 L1581.65 361.70 L1583.41 361.92 L1585.18 362.13 L1586.94 362.33 L1588.70 362.52 L1590.47 362.70 L1592.23 362.88 L1594.00 363.04 L1595.76 363.20 L1597.52 363.35 L1599.29 363.49 L1601.05 363.63 L1602.82 363.75 L1604.58 363.88 L1606.34 364.00 L1608.11 364.11 L1609.87 364.21 L1611.64 364.31 L1613.40 364.41 L1615.16 364.50 L1616.93 364.59 L1618.69 364.67 L1620.46 364.75 L1622.22 364.83 L1623.98 364.90 L1625.75 364.97 L1627.51 365.04 L1629.28 365.10 L1631.04 365.16 L1632.80 365.22 L1634.57 365.27 L1636.33 365.32 L1638.10 365.37 L1639.86 365.42 L1641.62 365.46 L1643.39 365.51 L1645.15 365.55 L1646.92 365.59 L1648.68 365.62 L1650.44 365.66 L1652.21 365.69 L1653.97 365.73 L1655.74 365.76 L1657.50 365.79 L1659.26 365.82 L1661.03 365.84 L1662.79 365.87 L1664.56 365.89 L1666.32 365.92 L1668.08 365.94 L1669.85 365.96 L1671.61 365.98 L1673.38 366.00 L1675.14 366.02 L1676.90 366.04 L1678.67 366.06 L1680.43 366.07 L1682.20 366.09 L1683.96 366.10 L1685.72 366.12 L1687.49 366.13 L1689.25 366.15 L1691.02 366.16 L1692.78 366.17 L1694.54 366.18 L1696.31 366.20 L1698.07 366.21 L1699.84 366.22 L1701.60 366.23 L1703.36 366.24 L1705.13 366.25 L1706.89 366.26 L1708.66 366.26 L1710.42 366.27 L1712.18 366.28 L1713.95 366.29 L1715.71 366.30 L1717.48 366.30 L1719.24 366.31 L1721.00 366.32 L1722.77 366.32 L1724.53 366.33 L1726.30 366.33 L1728.06 366.34 L1729.82 366.34 L1731.59 366.35 L1733.35 366.36 L1735.12 366.36 L1736.88 366.36 L1738.64 366.37 L1740.41 366.37 L1742.17 366.38 L1743.94 366.38 L1745.70 366.39" stroke="#800080" stroke-dasharray="33.300 33.280"/>
<path d="M1040.10 176.31 L1041.86 176.23 L1043.63 176.15 L1045.39 176.07 L1047.16 175.99 L1048.92 175.90 L1050.68 175.81 L1052.45 175.72 L1054.21 175.63 L1055.98 175.53 L1057.74 175.43 L1059.50 175.33 L1061.27 175.23 L1063.03 175.12 L1064.80 175.01 L1066.56 174.90 L1068.32 174.78 L1070.09 174.66 L1071.85 174.54 L1073.62 174.41 L1075.38 174.28 L1077.14 174.14 L1078.91 174.00 L1080.67 173.86 L1082.44 173.72 L1084.20 173.57 L1085.96 173.41 L1087.73 173.25 L1089.49 173.09 L1091.26 172.92 L1093.02 172.75 L1094.78 172.57 L1096.55 172.39 L1098.31 172.21 L1100.08 172.01 L1101.84 171.82 L1103.60 171.61 L1105.37 171.41 L1107.13 171.19 L1108.90 170.97 L1110.66 170.75 L1112.42 170.52 L1114.19 170.28 L1115.95 170.03 L1117.72 169.78 L1119.48 169.52 L1121.24 169.26 L1123.01 168.99 L1124.77 168.71 L1126.54 168.42 L1128.30 168.13 L1130.06 167.83 L1131.83 167.52 L1133.59 167.20 L1135.36 166.87 L1137.12 166.54 L1138.88 166.20 L1140.65 165.84 L1142.41 165.48 L1144.18 165.11 L1145.94 164.73 L1147.70 164.34 L1149.47 163.94 L1151.23 163.54 L1153.00 163.12 L1154.76 162.69 L1156.52 162.25 L1158.29 161.80 L1160.05 161.33 L1161.82 160.86 L1163.58 160.38 L1165.34 159.88 L1167.11 159.37 L1168.87 158.85 L1170.64 158.32 L1172.40 157.78 L1174.16 157.22 L1175.93 156.65 L1177.69 156.07 L1179.46 155.48 L1181.22 154.87 L1182.98 154.25 L1184.75 153.61 L1186.51 152.96 L1188.28 152.30 L1190.04 151.63 L1191.80 150.94 L1193.57 150.23 L1195.33 149.52 L1197.10 148.79 L1198.86 148.04 L1200.62 147.28 L1202.39 146.51 L1204.15 145.72 L1205.92 144.92 L1207.68 144.10 L1209.44 143.27 L1211.21 142.43 L1212.97 141.57 L1214.74 140.70 L1216.50 139.82 L1218.26 138.93 L1220.03 138.02 L1221.79 137.10 L1223.56 136.16 L1225.32 135.22 L1227.08 134.26 L1228.85 133.30 L1230.61 132.32 L1232.38 131.33 L1234.14 130.34 L1235.90 129.33 L1237.67 128.32 L1239.43 127.31 L1241.20 126.28 L1242.96 125.25 L1244.72 124.22 L1246.49 123.19 L1248.25 122.15 L1250.02 121.11 L1251.78 120.07 L1253.54 119.04 L1255.31 118.00 L1257.07 116.97 L1258.84 115.95 L1260.60 114.94 L1262.36 113.93 L1264.13 112.94 L1265.89 111.95 L1267.66 110.99 L1269.42 110.04 L1271.18 109.10 L1272.95 108.19 L1274.71 107.30 L1276.48 106.44 L1278.24 105.60 L1280.00 104.80 L1281.77 104.02 L1283.53 103.28 L1285.30 102.57 L1287.06 101.91 L1288.82 101.28 L1290.59 100.70 L1292.35 100.16 L1294.12 99.68 L1295.88 99.24 L1297.64 98.86 L1299.41 98.54 L1301.17 98.27 L1302.94 98.06 L1304.70 97.92 L1306.46 97.85 L1308.23 97.84 L1309.99 97.90 L1311.76 98.03 L1313.52 98.24 L1315.28 98.52 L1317.05 98.88 L1318.81 99.31 L1320.58 99.83 L1322.34 100.43 L1324.10 101.11 L1325.87 101.87 L1327.63 102.72 L1329.40 103.66 L1331.16 104.67 L1332.92 105.78 L1334.69 106.97 L1336.45 108.24 L1338.22 109.60 L1339.98 111.04 L1341.74 112.57 L1343.51 114.18 L1345.27 115.87 L1347.04 117.64 L1348.80 119.49 L1350.56 121.42 L1352.33 123.42 L1354.09 125.50 L1355.86 127.65 L1357.62 129.87 L1359.38 132.16 L1361.15 134.51 L1362.91 136.93 L1364.68 139.40 L1366.44 141.94 L1368.20 144.53 L1369.97 147.17 L1371.73 149.86 L1373.50 152.60 L1375.26 155.39 L1377.02 158.22 L1378.79 161.09 L1380.55 163.99 L1382.32 166.93 L1384.08 169.90 L1385.84 172.91 L1387.61 175.94 L1389.37 178.99 L1391.14 182.07 L1392.90 185.16 L1394.66 188.28 L1396.43 191.41 L1398.19 194.55 L1399.96 197.71 L1401.72 200.87 L1403.48 204.04 L1405.25 207.22 L1407.01 210.39 L1408.78 213.57 L1410.54 216.75 L1412.30 219.92 L1414.07 223.09 L1415.83 226.25 L1417.60 229.40 L1419.36 232.54 L1421.12 235.67 L1422.89 238.78 L1424.65 241.87 L1426.42 244.95 L1428.18 248.00 L1429.94 251.03 L1431.71 254.04 L1433.47 257.02 L1435.24 259.97 L1437.00 262.89 L1438.76 265.77 L1440.53 268.63 L1442.29 271.45 L1444.06 274.23 L1445.82 276.97 L1447.58 279.67 L1449.35 282.33 L1451.11 284.95 L1452.88 287.52 L1454.64 290.05 L1456.40 292.53 L1458.17 294.96 L1459.93 297.35 L1461.70 299.69 L1463.46 301.97 L1465.22 304.21 L1466.99 306.39 L1468.75 308.53 L1470.52 310.61 L1472.28 312.64 L1474.04 314.61 L1475.81 316.54 L1477.57 318.41 L1479.34 320.23 L1481.10 322.00 L1482.86 323.72 L1484.63 325.38 L1486.39 327.00 L1488.16 328.57 L1489.92 330.08 L1491.68 331.55 L1493.45 332.97 L1495.21 334.34 L1496.98 335.66 L1498.74 336.94 L1500.50 338.18 L1502.27 339.37 L1504.03 340.51 L1505.80 341.62 L1507.56 342.68 L1509.32 343.71 L1511.09 344.69 L1512.85 345.64 L1514.62 346.55 L1516.38 347.42 L1518.14 348.26 L1519.91 349.07 L1521.67 349.84 L1523.44 350.58 L1525.20 351.29 L1526.96 351.98 L1528.73 352.63 L1530.49 353.25 L1532.26 353.85 L1534.02 354.42 L1535.78 354.97 L1537.55 355.50 L1539.31 356.00 L1541.08 356.48 L1542.84 356.94 L1544.60 357.37 L1546.37 357.79 L1548.13 358.19 L1549.90 358.57 L1551.66 358.94 L1553.42 359.28 L1555.19 359.62 L1556.95 359.93 L1558.72 360.23 L1560.48 360.52 L1562.24 360.80 L1564.01 361.06 L1565.77 361.31 L1567.54 361.55 L1569.30 361.77 L1571.06 361.99 L1572.83 362.20 L1574.59 362.39 L1576.36 362.58 L1578.12 362.76 L1579.88 362.93 L1581.65 363.09 L1583.41 363.25 L1585.18 363.39 L1586.94 363.54 L1588.70 363.67 L1590.47 363.80 L1592.23 363.92 L1594.00 364.03 L1595.76 364.14 L1597.52 364.25 L1599.29 364.35 L1601.05 364.44 L1602.82 364.54 L1604.58 364.62 L1606.34 364.70 L1608.11 364.78 L1609.87 364.86 L1611.64 364.93 L1613.40 365.00 L1615.16 365.06 L1616.93 365.13 L1618.69 365.18 L1620.46 365.24 L1622.22 365.29 L1623.98 365.35 L1625.75 365.39 L1627.51 365.44 L1629.28 365.49 L1631.04 365.53 L1632.80 365.57 L1634.57 365.61 L1636.33 365.64 L1638.10 365.68 L1639.86 365.71 L1641.62 365.75 L1643.39 365.78 L1645.15 365.81 L1646.92 365.83 L1648.68 365.86 L1650.44 365.89 L1652.21 365.91 L1653.97 365.93 L1655.74 365.96 L1657.50 365.98 L1659.26 366.00 L1661.03 366.02 L1662.79 366.04 L1664.56 366.05 L1666.32 366.07 L1668.08 366.09 L1669.85 366.10 L1671.61 366.12 L1673.38 366.13 L1675.14 366.15 L1676.90 366.16 L1678.67 366.17 L1680.43 366.18 L1682.20 366.20 L1683.96 366.21 L1685.72 366.22 L1687.49 366.23 L1689.25 366.24 L1691.02 366.25 L1692.78 366.26 L1694.54 366.27 L1696.31 366.27 L1698.07 366.28 L1699.84 366.29 L1701.60 366.30 L1703.36 366.30 L1705.13 366.31 L1706.89 366.32 L1708.66 366.32 L1710.42 366.33 L1712.18 366.34 L1713.95 366.34 L1715.71 366.35 L1717.48 366.35 L1719.24 366.36 L1721.00 366.36 L1722.77 366.37 L1724.53 366.37 L1726.30 366.38 L1728.06 366.38 L1729.82 366.38 L1731.59 366.39 L1733.35 366.39 L1735.12 366.39 L1736.88 366.40 L1738.64 366.40 L1740.41 366.40 L1742.17 366.41 L1743.94 366.41 L1745.70 366.41" stroke="#ff0000" stroke-dasharray="20.000 20.000"/>
<path d="M1040.10 178.17 L1041.86 178.15 L1043.63 178.13 L1045.39 178.11 L1047.16 178.09 L1048.92 178.07 L1050.68 178.04 L1052.45 178.02 L1054.21 178.00 L1055.98 177.97 L1057.74 177.95 L1059.50 177.93 L1061.27 177.90 L1063.03 177.87 L1064.80 177.85 L1066.56 177.82 L1068.32 177.79 L1070.09 177.76 L1071.85 177.73 L1073.62 177.70 L1075.38 177.67 L1077.14 177.63 L1078.91 177.60 L1080.67 177.57 L1082.44 177.53 L1084.20 177.49 L1085.96 177.46 L1087.73 177.42 L1089.49 177.38 L1091.26 177.34 L1093.02 177.30 L1094.78 177.25 L1096.55 177.21 L1098.31 177.16 L1100.08 177.12 L1101.84 177.07 L1103.60 177.02 L1105.37 176.97 L1107.13 176.92 L1108.90 176.87 L1110.66 176.81 L1112.42 176.76 L1114.19 176.70 L1115.95 176.64 L1117.72 176.58 L1119.48 176.52 L1121.24 176.46 L1123.01 176.40 L1124.77 176.33 L1126.54 176.26 L1128.30 176.20 L1130.06 176.12 L1131.83 176.05 L1133.59 175.98 L1135.36 175.90 L1137.12 175.83 L1138.88 175.75 L1140.65 175.67 L1142.41 175.58 L1144.18 175.50 L1145.94 175.41 L1147.70 175.32 L1149.47 175.23 L1151.23 175.14 L1153.00 175.05 L1154.76 174.95 L1156.52 174.85 L1158.29 174.75 L1160.05 174.65 L1161.82 174.55 L1163.58 174.44 L1165.34 174.33 L1167.11 174.22 L1168.87 174.11 L1170.64 173.99 L1172.40 173.88 L1174.16 173.76 L1175.93 173.64 L1177.69 173.52 L1179.46 173.39 L1181.22 173.27 L1182.98 173.14 L1184.75 173.01 L1186.51 172.87 L1188.28 172.74 L1190.04 172.61 L1191.80 172.47 L1193.57 172.33 L1195.33 172.19 L1197.10 172.05 L1198.86 171.91 L1200.62 171.76 L1202.39 171.62 L1204.15 171.47 L1205.92 171.32 L1207.68 171.18 L1209.44 171.03 L1211.21 170.88 L1212.97 170.73 L1214.74 170.58 L1216.50 170.43 L1218.26 170.29 L1220.03 170.14 L1221.79 169.99 L1223.56 169.85 L1225.32 169.70 L1227.08 169.56 L1228.85 169.42 L1230.61 169.29 L1232.38 169.15 L1234.14 169.02 L1235.90 168.89 L1237.67 168.77 L1239.43 168.65 L1241.20 168.54 L1242.96 168.43 L1244.72 168.32 L1246.49 168.23 L1248.25 168.14 L1250.02 168.05 L1251.78 167.98 L1253.54 167.92 L1255.31 167.86 L1257.07 167.81 L1258.84 167.78 L1260.60 167.76 L1262.36 167.74 L1264.13 167.75 L1265.89 167.76 L1267.66 167.79 L1269.42 167.84 L1271.18 167.90 L1272.95 167.98 L1274.71 168.07 L1276.48 168.19 L1278.24 168.33 L1280.00 168.48 L1281.77 168.66 L1283.53 168.86 L1285.30 169.09 L1287.06 169.34 L1288.82 169.62 L1290.59 169.92 L1292.35 170.25 L1294.12 170.61 L1295.88 171.00 L1297.64 171.42 L1299.41 171.88 L1301.17 172.36 L1302.94 172.88 L1304.70 173.44 L1306.46 174.03 L1308.23 174.66 L1309.99 175.33 L1311.76 176.03 L1313.52 176.77 L1315.28 177.56 L1317.05 178.38 L1318.81 179.25 L1320.58 180.16 L1322.34 181.11 L1324.10 182.10 L1325.87 183.14 L1327.63 184.22 L1329.40 185.34 L1331.16 186.52 L1332.92 187.73 L1334.69 188.99 L1336.45 190.29 L1338.22 191.64 L1339.98 193.04 L1341.74 194.48 L1343.51 195.96 L1345.27 197.48 L1347.04 199.05 L1348.80 200.66 L1350.56 202.31 L1352.33 204.01 L1354.09 205.74 L1355.86 207.51 L1357.62 209.32 L1359.38 211.17 L1361.15 213.05 L1362.91 214.96 L1364.68 216.91 L1366.44 218.89 L1368.20 220.91 L1369.97 222.95 L1371.73 225.01 L1373.50 227.10 L1375.26 229.22 L1377.02 231.36 L1378.79 233.52 L1380.55 235.69 L1382.32 237.89 L1384.08 240.09 L1385.84 242.32 L1387.61 244.55 L1389.37 246.79 L1391.14 249.04 L1392.90 251.29 L1394.66 253.55 L1396.43 255.81 L1398.19 258.07 L1399.96 260.33 L1401.72 262.59 L1403.48 264.84 L1405.25 267.09 L1407.01 269.32 L1408.78 271.55 L1410.54 273.76 L1412.30 275.96 L1414.07 278.15 L1415.83 280.32 L1417.60 282.48 L1419.36 284.61 L1421.12 286.72 L1422.89 288.82 L1424.65 290.89 L1426.42 292.93 L1428.18 294.96 L1429.94 296.95 L1431.71 298.92 L1433.47 300.86 L1435.24 302.78 L1437.00 304.66 L1438.76 306.51 L1440.53 308.34 L1442.29 310.13 L1444.06 311.89 L1445.82 313.61 L1447.58 315.31 L1449.35 316.97 L1451.11 318.59 L1452.88 320.18 L1454.64 321.74 L1456.40 323.27 L1458.17 324.76 L1459.93 326.21 L1461.70 327.63 L1463.46 329.01 L1465.22 330.36 L1466.99 331.68 L1468.75 332.96 L1470.52 334.21 L1472.28 335.42 L1474.04 336.60 L1475.81 337.74 L1477.57 338.86 L1479.34 339.94 L1481.10 340.98 L1482.86 342.00 L1484.63 342.98 L1486.39 343.93 L1488.16 344.86 L1489.92 345.75 L1491.68 346.61 L1493.45 347.44 L1495.21 348.25 L1496.98 349.02 L1498.74 349.77 L1500.50 350.49 L1502.27 351.19 L1504.03 351.86 L1505.80 352.51 L1507.56 353.13 L1509.32 353.73 L1511.09 354.30 L1512.85 354.86 L1514.62 355.39 L1516.38 355.90 L1518.14 356.39 L1519.91 356.86 L1521.67 357.31 L1523.44 357.75 L1525.20 358.16 L1526.96 358.56 L1528.73 358.94 L1530.49 359.30 L1532.26 359.65 L1534.02 359.98 L1535.78 360.30 L1537.55 360.61 L1539.31 360.90 L1541.08 361.18 L1542.84 361.44 L1544.60 361.70 L1546.37 361.94 L1548.13 362.17 L1549.90 362.39 L1551.66 362.60 L1553.42 362.80 L1555.19 362.99 L1556.95 363.17 L1558.72 363.35 L1560.48 363.51 L1562.24 363.67 L1564.01 363.82 L1565.77 363.96 L1567.54 364.09 L1569.30 364.22 L1571.06 364.34 L1572.83 364.46 L1574.59 364.57 L1576.36 364.68 L1578.12 364.77 L1579.88 364.87 L1581.65 364.96 L1583.41 365.04 L1585.18 365.12 L1586.94 365.20 L1588.70 365.27 L1590.47 365.34 L1592.23 365.41 L1594.00 365.47 L1595.76 365.53 L1597.52 365.58 L1599.29 365.63 L1601.05 365.68 L1602.82 365.73 L1604.58 365.78 L1606.34 365.82 L1608.11 365.86 L1609.87 365.89 L1611.64 365.93 L1613.40 365.96 L1615.16 366.00 L1616.93 366.03 L1618.69 366.05 L1620.46 366.08 L1622.22 366.11 L1623.98 366.13 L1625.75 366.15 L1627.51 366.17 L1629.28 366.19 L1631.04 366.21 L1632.80 366.23 L1634.57 366.25 L1636.33 366.26 L1638.10 366.28 L1639.86 366.29 L1641.62 366.31 L1643.39 366.32 L1645.15 366.33 L1646.92 366.34 L1648.68 366.35 L1650.44 366.36 L1652.21 366.37 L1653.97 366.38 L1655.74 366.39 L1657.50 366.40 L1659.26 366.40 L1661.03 366.41 L1662.79 366.42 L1664.56 366.42 L1666.32 366.43 L1668.08 366.43 L1669.85 366.44 L1671.61 366.44 L1673.38 366.45 L1675.14 366.45 L1676.90 366.46 L1678.67 366.46 L1680.43 366.46 L1682.20 366.47 L1683.96 366.47 L1685.72 366.47 L1687.49 366.47 L1689.25 366.48 L1691.02 366.48 L1692.78 366.48 L1694.54 366.48 L1696.31 366.49 L1698.07 366.49 L1699.84 366.49 L1701.60 366.49 L1703.36 366.49 L1705.13 366.49 L1706.89 366.49 L1708.66 366.49 L1710.42 366.50 L1712.18 366.50 L1713.95 366.50 L1715.71 366.50 L1717.48 366.50 L1719.24 366.50 L1721.00 366.50 L1722.77 366.50 L1724.53 366.50 L1726.30 366.50 L1728.06 366.50 L1729.82 366.50 L1731.59 366.50 L1733.35 366.50 L1735.12 366.50 L1736.88 366.50 L1738.64 366.50 L1740.41 366.50 L1742.17 366.50 L1743.94 366.50 L1745.70 366.50" stroke="#0000ff" stroke-dasharray="13.350 13.300"/>
<path d="M1040.10 178.91 L1041.86 178.90 L1043.63 178.89 L1045.39 178.88 L1047.16 178.86 L1048.92 178.85 L1050.68 178.84 L1052.45 178.83 L1054.21 178.81 L1055.98 178.80 L1057.74 178.79 L1059.50 178.77 L1061.27 178.76 L1063.03 178.74 L1064.80 178.73 L1066.56 178.71 L1068.32 178.69 L1070.09 178.68 L1071.85 178.66 L1073.62 178.64 L1075.38 178.62 L1077.14 178.61 L1078.91 178.59 L1080.67 178.57 L1082.44 178.55 L1084.20 178.53 L1085.96 178.51 L1087.73 178.48 L1089.49 178.46 L1091.26 178.44 L1093.02 178.42 L1094.78 178.39 L1096.55 178.37 L1098.31 178.34 L1100.08 178.32 L1101.84 178.29 L1103.60 178.26 L1105.37 178.24 L1107.13 178.21 L1108.90 178.18 L1110.66 178.15 L1112.42 178.12 L1114.19 178.09 L1115.95 178.05 L1117.72 178.02 L1119.48 177.99 L1121.24 177.96 L1123.01 177.92 L1124.77 177.88 L1126.54 177.85 L1128.30 177.81 L1130.06 177.77 L1131.83 177.74 L1133.59 177.70 L1135.36 177.66 L1137.12 177.61 L1138.88 177.57 L1140.65 177.53 L1142.41 177.49 L1144.18 177.44 L1145.94 177.40 L1147.70 177.35 L1149.47 177.31 L1151.23 177.26 L1153.00 177.21 L1154.76 177.16 L1156.52 177.11 L1158.29 177.06 L1160.05 177.01 L1161.82 176.96 L1163.58 176.91 L1165.34 176.85 L1167.11 176.80 L1168.87 176.75 L1170.64 176.69 L1172.40 176.64 L1174.16 176.58 L1175.93 176.52 L1177.69 176.47 L1179.46 176.41 L1181.22 176.35 L1182.98 176.30 L1184.75 176.24 L1186.51 176.18 L1188.28 176.12 L1190.04 176.07 L1191.80 176.01 L1193.57 175.95 L1195.33 175.90 L1197.10 175.84 L1198.86 175.79 L1200.62 175.73 L1202.39 175.68 L1204.15 175.63 L1205.92 175.58 L1207.68 175.53 L1209.44 175.48 L1211.21 175.43 L1212.97 175.39 L1214.74 175.35 L1216.50 175.31 L1218.26 175.27 L1220.03 175.24 L1221.79 175.21 L1223.56 175.18 L1225.32 175.16 L1227.08 175.14 L1228.85 175.12 L1230.61 175.11 L1232.38 175.11 L1234.14 175.11 L1235.90 175.11 L1237.67 175.13 L1239.43 175.15 L1241.20 175.17 L1242.96 175.21 L1244.72 175.25 L1246.49 175.30 L1248.25 175.36 L1250.02 175.42 L1251.78 175.50 L1253.54 175.59 L1255.31 175.69 L1257.07 175.80 L1258.84 175.93 L1260.60 176.07 L1262.36 176.22 L1264.13 176.38 L1265.89 176.56 L1267.66 176.76 L1269.42 176.97 L1271.18 177.20 L1272.95 177.45 L1274.71 177.71 L1276.48 178.00 L1278.24 178.30 L1280.00 178.63 L1281.77 178.98 L1283.53 179.35 L1285.30 179.74 L1287.06 180.16 L1288.82 180.60 L1290.59 181.06 L1292.35 181.56 L1294.12 182.08 L1295.88 182.63 L1297.64 183.20 L1299.41 183.81 L1301.17 184.45 L1302.94 185.11 L1304.70 185.81 L1306.46 186.54 L1308.23 187.31 L1309.99 188.10 L1311.76 188.93 L1313.52 189.80 L1315.28 190.70 L1317.05 191.63 L1318.81 192.60 L1320.58 193.61 L1322.34 194.65 L1324.10 195.73 L1325.87 196.85 L1327.63 198.00 L1329.40 199.19 L1331.16 200.42 L1332.92 201.69 L1334.69 202.99 L1336.45 204.33 L1338.22 205.70 L1339.98 207.11 L1341.74 208.56 L1343.51 210.04 L1345.27 211.56 L1347.04 213.11 L1348.80 214.70 L1350.56 216.32 L1352.33 217.97 L1354.09 219.66 L1355.86 221.37 L1357.62 223.12 L1359.38 224.90 L1361.15 226.70 L1362.91 228.53 L1364.68 230.39 L1366.44 232.27 L1368.20 234.17 L1369.97 236.10 L1371.73 238.05 L1373.50 240.01 L1375.26 242.00 L1377.02 244.00 L1378.79 246.02 L1380.55 248.06 L1382.32 250.10 L1384.08 252.16 L1385.84 254.23 L1387.61 256.31 L1389.37 258.39 L1391.14 260.48 L1392.90 262.57 L1394.66 264.66 L1396.43 266.76 L1398.19 268.85 L1399.96 270.94 L1401.72 273.03 L1403.48 275.11 L1405.25 277.19 L1407.01 279.26 L1408.78 281.31 L1410.54 283.36 L1412.30 285.39 L1414.07 287.41 L1415.83 289.42 L1417.60 291.41 L1419.36 293.38 L1421.12 295.33 L1422.89 297.26 L1424.65 299.17 L1426.42 301.05 L1428.18 302.92 L1429.94 304.75 L1431.71 306.56 L1433.47 308.35 L1435.24 310.11 L1437.00 311.84 L1438.76 313.54 L1440.53 315.21 L1442.29 316.85 L1444.06 318.46 L1445.82 320.04 L1447.58 321.58 L1449.35 323.10 L1451.11 324.58 L1452.88 326.03 L1454.64 327.44 L1456.40 328.82 L1458.17 330.17 L1459.93 331.48 L1461.70 332.76 L1463.46 334.01 L1465.22 335.22 L1466.99 336.40 L1468.75 337.55 L1470.52 338.66 L1472.28 339.74 L1474.04 340.79 L1475.81 341.81 L1477.57 342.80 L1479.34 343.75 L1481.10 344.67 L1482.86 345.57 L1484.63 346.43 L1486.39 347.26 L1488.16 348.07 L1489.92 348.85 L1491.68 349.60 L1493.45 350.32 L1495.21 351.02 L1496.98 351.69 L1498.74 352.33 L1500.50 352.96 L1502.27 353.55 L1504.03 354.13 L1505.80 354.68 L1507.56 355.21 L1509.32 355.72 L1511.09 356.21 L1512.85 356.68 L1514.62 357.13 L1516.38 357.56 L1518.14 357.97 L1519.91 358.37 L1521.67 358.75 L1523.44 359.11 L1525.20 359.46 L1526.96 359.79 L1528.73 360.11 L1530.49 360.41 L1532.26 360.70 L1534.02 360.98 L1535.78 361.24 L1537.55 361.50 L1539.31 361.74 L1541.08 361.97 L1542.84 362.19 L1544.60 362.40 L1546.37 362.60 L1548.13 362.79 L1549.90 362.97 L1551.66 363.14 L1553.42 363.31 L1555.19 363.46 L1556.95 363.61 L1558.72 363.76 L1560.48 363.89 L1562.24 364.02 L1564.01 364.14 L1565.77 364.26 L1567.54 364.37 L1569.30 364.48 L1571.06 364.58 L1572.83 364.67 L1574.59 364.76 L1576.36 364.85 L1578.12 364.93 L1579.88 365.01 L1581.65 365.08 L1583.41 365.16 L1585.18 365.22 L1586.94 365.29 L1588.70 365.35 L1590.47 365.40 L1592.23 365.46 L1594.00 365.51 L1595.76 365.56 L1597.52 365.61 L1599.29 365.65 L1601.05 365.69 L1602.82 365.73 L1604.58 365.77 L1606.34 365.81 L1608.11 365.84 L1609.87 365.87 L1611.64 365.91 L1613.40 365.94 L1615.16 365.96 L1616.93 365.99 L1618.69 366.01 L1620.46 366.04 L1622.22 366.06 L1623.98 366.08 L1625.75 366.10 L1627.51 366.12 L1629.28 366.14 L1631.04 366.16 L1632.80 366.18 L1634.57 366.19 L1636.33 366.21 L1638.10 366.22 L1639.86 366.23 L1641.62 366.25 L1643.39 366.26 L1645.15 366.27 L1646.92 366.28 L1648.68 366.29 L1650.44 366.30 L1652.21 366.31 L1653.97 366.32 L1655.74 366.33 L1657.50 366.34 L1659.26 366.34 L1661.03 366.35 L1662.79 366.36 L1664.56 366.36 L1666.32 366.37 L1668.08 366.38 L1669.85 366.38 L1671.61 366.39 L1673.38 366.39 L1675.14 366.40 L1676.90 366.40 L1678.67 366.41 L1680.43 366.41 L1682.20 366.41 L1683.96 366.42 L1685.72 366.42 L1687.49 366.43 L1689.25 366.43 L1691.02 366.43 L1692.78 366.44 L1694.54 366.44 L1696.31 366.44 L1698.07 366.44 L1699.84 366.45 L1701.60 366.45 L1703.36 366.45 L1705.13 366.45 L1706.89 366.45 L1708.66 366.46 L1710.42 366.46 L1712.18 366.46 L1713.95 366.46 L1715.71 366.46 L1717.48 366.46 L1719.24 366.47 L1721.00 366.47 L1722.77 366.47 L1724.53 366.47 L1726.30 366.47 L1728.06 366.47 L1729.82 366.47 L1731.59 366.47 L1733.35 366.48 L1735.12 366.48 L1736.88 366.48 L1738.64 366.48 L1740.41 366.48 L1742.17 366.48 L1743.94 366.48 L1745.70 366.48" stroke="#000" stroke-linecap="square"/>
</g>
<path d="M1040.10 373.90v-7.00M1040.10 0.50v7.00M1075.38 373.90v-4.00M1075.38 0.50v4.00M1110.66 373.90v-4.00M1110.66 0.50v4.00M1145.94 373.90v-4.00M1145.94 0.50v4.00M1181.22 373.90v-4.00M1181.22 0.50v4.00M1216.50 373.90v-7.00M1216.50 0.50v7.00M1251.78 373.90v-4.00M1251.78 0.50v4.00M1287.06 373.90v-4.00M1287.06 0.50v4.00M1322.34 373.90v-4.00M1322.34 0.50v4.00M1357.62 373.90v-4.00M1357.62 0.50v4.00M1392.90 373.90v-7.00M1392.90 0.50v7.00M1428.18 373.90v-4.00M1428.18 0.50v4.00M1463.46 373.90v-4.00M1463.46 0.50v4.00M1498.74 373.90v-4.00M1498.74 0.50v4.00M1534.02 373.90v-4.00M1534.02 0.50v4.00M1569.30 373.90v-7.00M1569.30 0.50v7.00M1604.58 373.90v-4.00M1604.58 0.50v4.00M1639.86 373.90v-4.00M1639.86 0.50v4.00M1675.14 373.90v-4.00M1675.14 0.50v4.00M1710.42 373.90v-4.00M1710.42 0.50v4.00M1745.70 373.90v-7.00M1745.70 0.50v7.00M1025.40 366.50h8.80M1760.50 366.50h-8.80M1025.40 347.80h5.40M1760.50 347.80h-5.40M1025.40 329.09h5.40M1760.50 329.09h-5.40M1025.40 310.38h5.40M1760.50 310.38h-5.40M1025.40 291.68h8.80M1760.50 291.68h-8.80M1025.40 272.98h5.40M1760.50 272.98h-5.40M1025.40 254.27h5.40M1760.50 254.27h-5.40M1025.40 235.56h5.40M1760.50 235.56h-5.40M1025.40 216.86h8.80M1760.50 216.86h-8.80M1025.40 198.15h5.40M1760.50 198.15h-5.40M1025.40 179.45h5.40M1760.50 179.45h-5.40M1025.40 160.74h5.40M1760.50 160.74h-5.40M1025.40 142.04h8.80M1760.50 142.04h-8.80M1025.40 123.33h5.40M1760.50 123.33h-5.40M1025.40 104.63h5.40M1760.50 104.63h-5.40M1025.40 85.92h5.40M1760.50 85.92h-5.40M1025.40 67.22h8.80M1760.50 67.22h-8.80M1025.40 48.51h5.40M1760.50 48.51h-5.40M1025.40 29.81h5.40M1760.50 29.81h-5.40M1025.40 11.10h5.40M1760.50 11.10h-5.40" stroke="#6b6b6b" stroke-width="1.3" fill="none"/>
<rect x="1025.40" y="0.50" width="735.10" height="373.40" fill="none" stroke="#6b6b6b" stroke-width="1.5"/>
<g fill="#000">
<text transform="translate(1040.10 402.05) scale(1.2270 1)" font-family="Liberation Sans, sans-serif" text-rendering="geometricPrecision" font-size="25.00" font-weight="bold" text-anchor="middle" stroke="#000" stroke-width="0.5"><tspan dy="3.1">−</tspan><tspan dy="-3.1">10</tspan></text>
<text transform="translate(1216.50 402.05) scale(1.2270 1)" font-family="Liberation Sans, sans-serif" text-rendering="geometricPrecision" font-size="25.00" font-weight="bold" text-anchor="middle" stroke="#000" stroke-width="0.5"><tspan dy="3.1">−</tspan><tspan dy="-3.1">5</tspan></text>
<text transform="translate(1392.90 402.05) scale(1.1680 1)" font-family="Liberation Sans, sans-serif" text-rendering="geometricPrecision" font-size="25.00" font-weight="bold" text-anchor="middle" stroke="#000" stroke-width="0.5">0</text>
<text transform="translate(1569.30 402.05) scale(1.1680 1)" font-family="Liberation Sans, sans-serif" text-rendering="geometricPrecision" font-size="25.00" font-weight="bold" text-anchor="middle" stroke="#000" stroke-width="0.5">5</text>
<text transform="translate(1745.70 402.05) scale(1.1680 1)" font-family="Liberation Sans, sans-serif" text-rendering="geometricPrecision" font-size="25.00" font-weight="bold" text-anchor="middle" stroke="#000" stroke-width="0.5">10</text>
<text transform="translate(1018.10 375.10) scale(1.2050 1)" font-family="Liberation Sans, sans-serif" text-rendering="geometricPrecision" font-size="25.00" font-weight="bold" text-anchor="end" stroke="#000" stroke-width="0.5">0.0</text>
<text transform="translate(1018.10 300.28) scale(1.2050 1)" font-family="Liberation Sans, sans-serif" text-rendering="geometricPrecision" font-size="25.00" font-weight="bold" text-anchor="end" stroke="#000" stroke-width="0.5">0.2</text>
<text transform="translate(1018.10 225.46) scale(1.2050 1)" font-family="Liberation Sans, sans-serif" text-rendering="geometricPrecision" font-size="25.00" font-weight="bold" text-anchor="end" stroke="#000" stroke-width="0.5">0.4</text>
<text transform="translate(1018.10 150.64) scale(1.2050 1)" font-family="Liberation Sans, sans-serif" text-rendering="geometricPrecision" font-size="25.00" font-weight="bold" text-anchor="end" stroke="#000" stroke-width="0.5">0.6</text>
<text transform="translate(1018.10 75.82) scale(1.2050 1)" font-family="Liberation Sans, sans-serif" text-rendering="geometricPrecision" font-size="25.00" font-weight="bold" text-anchor="end" stroke="#000" stroke-width="0.5">0.8</text>
<text transform="translate(1392.90 449.60) scale(1.3070 1)" font-family="Liberation Sans, sans-serif" text-rendering="geometricPrecision" font-size="30.80" font-weight="bold" text-anchor="middle" stroke="#000" stroke-width="0.6">x</text>
<text transform="translate(953.10 189.00) scale(1.1800 1) rotate(-90)" font-family="Liberation Sans, sans-serif" text-rendering="geometricPrecision" font-size="32.40" font-weight="bold" text-anchor="middle" stroke="#000" stroke-width="0.6">w(x,0.5)</text>
</g>
<rect x="1046.50" y="218.50" width="146.50" height="143.00" fill="#fff" stroke="#606060" stroke-width="1"/>
<g fill="#000">
<line x1="1053.90" y1="238.60" x2="1098.30" y2="238.60" stroke="#800080" stroke-width="3" stroke-dasharray="8.8 8.3"/>
<text transform="translate(1104.70 246.20) scale(1.1600 1)" font-family="Liberation Sans, sans-serif" text-rendering="geometricPrecision" font-size="21.70" font-weight="normal" text-anchor="start" stroke="#000" stroke-width="0.25"><tspan font-style="italic">θ</tspan>=0.2</text>
<line x1="1053.90" y1="272.90" x2="1098.30" y2="272.90" stroke="#ff0000" stroke-width="3" stroke-dasharray="5.3 4.8"/>
<text transform="translate(1104.70 280.50) scale(1.1600 1)" font-family="Liberation Sans, sans-serif" text-rendering="geometricPrecision" font-size="21.70" font-weight="normal" text-anchor="start" stroke="#000" stroke-width="0.25"><tspan font-style="italic">θ</tspan>=0.5</text>
<line x1="1053.90" y1="307.30" x2="1098.30" y2="307.30" stroke="#0000ff" stroke-width="3" stroke-dasharray="3.4 3.32"/>
<text transform="translate(1104.70 314.90) scale(1.1600 1)" font-family="Liberation Sans, sans-serif" text-rendering="geometricPrecision" font-size="21.70" font-weight="normal" text-anchor="start" stroke="#000" stroke-width="0.25"><tspan font-style="italic">θ</tspan>=0.9</text>
<line x1="1052.90" y1="341.50" x2="1099.00" y2="341.50" stroke="#000" stroke-width="3"/>
<text transform="translate(1104.70 349.10) scale(1.1600 1)" font-family="Liberation Sans, sans-serif" text-rendering="geometricPrecision" font-size="21.70" font-weight="normal" text-anchor="start" stroke="#000" stroke-width="0.25"><tspan font-style="italic">θ</tspan>=1</text>
</g>
</g>
<g id="plot3">
<clipPath id="clip3"><rect x="105.70" y="521.70" width="733.70" height="372.30"/></clipPath>
<line x1="472.30" y1="521.70" x2="472.30" y2="894.00" stroke="#8a8a8a" stroke-width="1.1"/>
<g clip-path="url(#clip3)" fill="none" stroke-width="4.30" stroke-linejoin="round">
<path d="M120.50 542.04 L122.26 542.11 L124.02 542.17 L125.78 542.24 L127.54 542.30 L129.30 542.37 L131.05 542.45 L132.81 542.52 L134.57 542.60 L136.33 542.68 L138.09 542.76 L139.85 542.84 L141.61 542.93 L143.37 543.01 L145.13 543.10 L146.88 543.20 L148.64 543.29 L150.40 543.39 L152.16 543.49 L153.92 543.60 L155.68 543.70 L157.44 543.82 L159.20 543.93 L160.96 544.05 L162.72 544.17 L164.48 544.29 L166.23 544.42 L167.99 544.55 L169.75 544.68 L171.51 544.82 L173.27 544.96 L175.03 545.11 L176.79 545.26 L178.55 545.42 L180.31 545.58 L182.06 545.74 L183.82 545.91 L185.58 546.08 L187.34 546.26 L189.10 546.45 L190.86 546.63 L192.62 546.83 L194.38 547.03 L196.14 547.23 L197.90 547.45 L199.66 547.66 L201.41 547.89 L203.17 548.12 L204.93 548.35 L206.69 548.59 L208.45 548.84 L210.21 549.10 L211.97 549.36 L213.73 549.64 L215.49 549.92 L217.25 550.20 L219.00 550.50 L220.76 550.80 L222.52 551.11 L224.28 551.43 L226.04 551.76 L227.80 552.10 L229.56 552.45 L231.32 552.80 L233.08 553.17 L234.84 553.55 L236.59 553.93 L238.35 554.33 L240.11 554.74 L241.87 555.16 L243.63 555.59 L245.39 556.04 L247.15 556.49 L248.91 556.96 L250.67 557.44 L252.43 557.93 L254.18 558.44 L255.94 558.96 L257.70 559.50 L259.46 560.04 L261.22 560.61 L262.98 561.19 L264.74 561.78 L266.50 562.39 L268.26 563.01 L270.01 563.66 L271.77 564.31 L273.53 564.99 L275.29 565.68 L277.05 566.40 L278.81 567.12 L280.57 567.87 L282.33 568.64 L284.09 569.43 L285.85 570.24 L287.61 571.06 L289.36 571.91 L291.12 572.78 L292.88 573.67 L294.64 574.59 L296.40 575.52 L298.16 576.48 L299.92 577.46 L301.68 578.47 L303.44 579.50 L305.20 580.56 L306.95 581.64 L308.71 582.74 L310.47 583.88 L312.23 585.04 L313.99 586.22 L315.75 587.44 L317.51 588.68 L319.27 589.95 L321.03 591.25 L322.79 592.57 L324.54 593.93 L326.30 595.32 L328.06 596.74 L329.82 598.19 L331.58 599.67 L333.34 601.18 L335.10 602.72 L336.86 604.29 L338.62 605.90 L340.38 607.54 L342.13 609.21 L343.89 610.92 L345.65 612.66 L347.41 614.43 L349.17 616.24 L350.93 618.08 L352.69 619.96 L354.45 621.87 L356.21 623.82 L357.97 625.80 L359.72 627.81 L361.48 629.86 L363.24 631.95 L365.00 634.06 L366.76 636.22 L368.52 638.41 L370.28 640.63 L372.04 642.88 L373.80 645.17 L375.56 647.50 L377.31 649.85 L379.07 652.24 L380.83 654.66 L382.59 657.12 L384.35 659.60 L386.11 662.12 L387.87 664.66 L389.63 667.24 L391.39 669.84 L393.14 672.47 L394.90 675.13 L396.66 677.82 L398.42 680.53 L400.18 683.27 L401.94 686.03 L403.70 688.81 L405.46 691.61 L407.22 694.43 L408.98 697.28 L410.74 700.14 L412.49 703.01 L414.25 705.91 L416.01 708.81 L417.77 711.73 L419.53 714.66 L421.29 717.60 L423.05 720.54 L424.81 723.50 L426.57 726.45 L428.32 729.42 L430.08 732.38 L431.84 735.34 L433.60 738.30 L435.36 741.26 L437.12 744.21 L438.88 747.16 L440.64 750.10 L442.40 753.02 L444.16 755.94 L445.92 758.84 L447.67 761.73 L449.43 764.60 L451.19 767.45 L452.95 770.28 L454.71 773.09 L456.47 775.88 L458.23 778.64 L459.99 781.38 L461.75 784.09 L463.50 786.77 L465.26 789.42 L467.02 792.04 L468.78 794.63 L470.54 797.18 L472.30 799.70 L474.06 802.18 L475.82 804.63 L477.58 807.03 L479.34 809.40 L481.10 811.73 L482.85 814.02 L484.61 816.26 L486.37 818.47 L488.13 820.63 L489.89 822.75 L491.65 824.82 L493.41 826.86 L495.17 828.84 L496.93 830.79 L498.69 832.69 L500.44 834.54 L502.20 836.35 L503.96 838.12 L505.72 839.84 L507.48 841.52 L509.24 843.15 L511.00 844.74 L512.76 846.29 L514.52 847.79 L516.27 849.25 L518.03 850.67 L519.79 852.05 L521.55 853.38 L523.31 854.68 L525.07 855.93 L526.83 857.15 L528.59 858.32 L530.35 859.46 L532.11 860.56 L533.87 861.62 L535.62 862.65 L537.38 863.64 L539.14 864.60 L540.90 865.52 L542.66 866.41 L544.42 867.27 L546.18 868.09 L547.94 868.89 L549.70 869.65 L551.46 870.39 L553.21 871.10 L554.97 871.78 L556.73 872.43 L558.49 873.06 L560.25 873.66 L562.01 874.24 L563.77 874.79 L565.53 875.33 L567.29 875.84 L569.05 876.32 L570.80 876.79 L572.56 877.24 L574.32 877.67 L576.08 878.08 L577.84 878.47 L579.60 878.85 L581.36 879.21 L583.12 879.55 L584.88 879.88 L586.63 880.19 L588.39 880.49 L590.15 880.77 L591.91 881.05 L593.67 881.31 L595.43 881.55 L597.19 881.79 L598.95 882.02 L600.71 882.23 L602.47 882.44 L604.23 882.63 L605.98 882.82 L607.74 882.99 L609.50 883.16 L611.26 883.32 L613.02 883.47 L614.78 883.62 L616.54 883.76 L618.30 883.89 L620.06 884.01 L621.82 884.13 L623.57 884.24 L625.33 884.35 L627.09 884.45 L628.85 884.55 L630.61 884.64 L632.37 884.73 L634.13 884.81 L635.89 884.89 L637.65 884.96 L639.40 885.03 L641.16 885.10 L642.92 885.16 L644.68 885.22 L646.44 885.28 L648.20 885.33 L649.96 885.39 L651.72 885.43 L653.48 885.48 L655.24 885.52 L657.00 885.57 L658.75 885.61 L660.51 885.64 L662.27 885.68 L664.03 885.71 L665.79 885.74 L667.55 885.77 L669.31 885.80 L671.07 885.83 L672.83 885.85 L674.59 885.88 L676.34 885.90 L678.10 885.92 L679.86 885.94 L681.62 885.96 L683.38 885.98 L685.14 886.00 L686.90 886.01 L688.66 886.03 L690.42 886.05 L692.17 886.06 L693.93 886.07 L695.69 886.08 L697.45 886.10 L699.21 886.11 L700.97 886.12 L702.73 886.13 L704.49 886.14 L706.25 886.15 L708.01 886.15 L709.76 886.16 L711.52 886.17 L713.28 886.18 L715.04 886.18 L716.80 886.19 L718.56 886.20 L720.32 886.20 L722.08 886.21 L723.84 886.21 L725.60 886.22 L727.36 886.22 L729.11 886.23 L730.87 886.23 L732.63 886.23 L734.39 886.24 L736.15 886.24 L737.91 886.24 L739.67 886.25 L741.43 886.25 L743.19 886.25 L744.94 886.26 L746.70 886.26 L748.46 886.26 L750.22 886.26 L751.98 886.27 L753.74 886.27 L755.50 886.27 L757.26 886.27 L759.02 886.27 L760.78 886.27 L762.54 886.28 L764.29 886.28 L766.05 886.28 L767.81 886.28 L769.57 886.28 L771.33 886.28 L773.09 886.28 L774.85 886.28 L776.61 886.28 L778.37 886.29 L780.12 886.29 L781.88 886.29 L783.64 886.29 L785.40 886.29 L787.16 886.29 L788.92 886.29 L790.68 886.29 L792.44 886.29 L794.20 886.29 L795.96 886.29 L797.72 886.29 L799.47 886.29 L801.23 886.29 L802.99 886.29 L804.75 886.29 L806.51 886.29 L808.27 886.29 L810.03 886.29 L811.79 886.30 L813.55 886.30 L815.31 886.30 L817.06 886.30 L818.82 886.30 L820.58 886.30 L822.34 886.30 L824.10 886.30" stroke="#000" stroke-linecap="square"/>
<path d="M120.50 541.30 L122.26 541.32 L124.02 541.34 L125.78 541.37 L127.54 541.40 L129.30 541.42 L131.05 541.45 L132.81 541.48 L134.57 541.51 L136.33 541.54 L138.09 541.57 L139.85 541.60 L141.61 541.64 L143.37 541.67 L145.13 541.70 L146.88 541.74 L148.64 541.78 L150.40 541.82 L152.16 541.86 L153.92 541.90 L155.68 541.94 L157.44 541.98 L159.20 542.03 L160.96 542.07 L162.72 542.12 L164.48 542.17 L166.23 542.22 L167.99 542.27 L169.75 542.33 L171.51 542.38 L173.27 542.44 L175.03 542.50 L176.79 542.56 L178.55 542.62 L180.31 542.68 L182.06 542.75 L183.82 542.82 L185.58 542.89 L187.34 542.96 L189.10 543.03 L190.86 543.11 L192.62 543.19 L194.38 543.27 L196.14 543.36 L197.90 543.44 L199.66 543.53 L201.41 543.62 L203.17 543.72 L204.93 543.82 L206.69 543.92 L208.45 544.02 L210.21 544.13 L211.97 544.24 L213.73 544.36 L215.49 544.47 L217.25 544.60 L219.00 544.72 L220.76 544.85 L222.52 544.98 L224.28 545.12 L226.04 545.26 L227.80 545.41 L229.56 545.56 L231.32 545.72 L233.08 545.88 L234.84 546.05 L236.59 546.22 L238.35 546.40 L240.11 546.58 L241.87 546.77 L243.63 546.96 L245.39 547.16 L247.15 547.37 L248.91 547.58 L250.67 547.80 L252.43 548.03 L254.18 548.27 L255.94 548.51 L257.70 548.76 L259.46 549.02 L261.22 549.29 L262.98 549.56 L264.74 549.85 L266.50 550.14 L268.26 550.45 L270.01 550.76 L271.77 551.08 L273.53 551.42 L275.29 551.76 L277.05 552.12 L278.81 552.48 L280.57 552.86 L282.33 553.26 L284.09 553.66 L285.85 554.08 L287.61 554.51 L289.36 554.96 L291.12 555.42 L292.88 555.89 L294.64 556.38 L296.40 556.89 L298.16 557.41 L299.92 557.95 L301.68 558.50 L303.44 559.08 L305.20 559.67 L306.95 560.28 L308.71 560.91 L310.47 561.56 L312.23 562.23 L313.99 562.92 L315.75 563.64 L317.51 564.37 L319.27 565.13 L321.03 565.92 L322.79 566.73 L324.54 567.56 L326.30 568.42 L328.06 569.30 L329.82 570.21 L331.58 571.15 L333.34 572.12 L335.10 573.11 L336.86 574.14 L338.62 575.19 L340.38 576.28 L342.13 577.40 L343.89 578.55 L345.65 579.73 L347.41 580.94 L349.17 582.19 L350.93 583.48 L352.69 584.80 L354.45 586.16 L356.21 587.55 L357.97 588.98 L359.72 590.45 L361.48 591.95 L363.24 593.50 L365.00 595.08 L366.76 596.70 L368.52 598.37 L370.28 600.07 L372.04 601.81 L373.80 603.60 L375.56 605.43 L377.31 607.29 L379.07 609.20 L380.83 611.16 L382.59 613.15 L384.35 615.19 L386.11 617.27 L387.87 619.39 L389.63 621.55 L391.39 623.76 L393.14 626.00 L394.90 628.29 L396.66 630.62 L398.42 632.99 L400.18 635.41 L401.94 637.86 L403.70 640.35 L405.46 642.88 L407.22 645.45 L408.98 648.06 L410.74 650.70 L412.49 653.38 L414.25 656.09 L416.01 658.84 L417.77 661.63 L419.53 664.44 L421.29 667.29 L423.05 670.17 L424.81 673.08 L426.57 676.01 L428.32 678.97 L430.08 681.96 L431.84 684.97 L433.60 688.01 L435.36 691.06 L437.12 694.14 L438.88 697.23 L440.64 700.34 L442.40 703.46 L444.16 706.60 L445.92 709.74 L447.67 712.90 L449.43 716.07 L451.19 719.24 L452.95 722.42 L454.71 725.60 L456.47 728.77 L458.23 731.95 L459.99 735.13 L461.75 738.30 L463.50 741.46 L465.26 744.62 L467.02 747.76 L468.78 750.89 L470.54 754.01 L472.30 757.11 L474.06 760.19 L475.82 763.25 L477.58 766.29 L479.34 769.30 L481.10 772.29 L482.85 775.25 L484.61 778.19 L486.37 781.09 L488.13 783.96 L489.89 786.80 L491.65 789.60 L493.41 792.36 L495.17 795.09 L496.93 797.77 L498.69 800.42 L500.44 803.02 L502.20 805.58 L503.96 808.10 L505.72 810.57 L507.48 812.99 L509.24 815.37 L511.00 817.70 L512.76 819.99 L514.52 822.22 L516.27 824.41 L518.03 826.55 L519.79 828.63 L521.55 830.67 L523.31 832.66 L525.07 834.60 L526.83 836.49 L528.59 838.32 L530.35 840.11 L532.11 841.85 L533.87 843.54 L535.62 845.19 L537.38 846.78 L539.14 848.33 L540.90 849.83 L542.66 851.28 L544.42 852.68 L546.18 854.05 L547.94 855.36 L549.70 856.64 L551.46 857.87 L553.21 859.06 L554.97 860.20 L556.73 861.31 L558.49 862.38 L560.25 863.40 L562.01 864.39 L563.77 865.35 L565.53 866.27 L567.29 867.15 L569.05 868.00 L570.80 868.82 L572.56 869.60 L574.32 870.35 L576.08 871.08 L577.84 871.77 L579.60 872.44 L581.36 873.07 L583.12 873.69 L584.88 874.27 L586.63 874.83 L588.39 875.37 L590.15 875.88 L591.91 876.38 L593.67 876.85 L595.43 877.30 L597.19 877.73 L598.95 878.14 L600.71 878.53 L602.47 878.91 L604.23 879.26 L605.98 879.61 L607.74 879.93 L609.50 880.24 L611.26 880.54 L613.02 880.82 L614.78 881.09 L616.54 881.35 L618.30 881.60 L620.06 881.83 L621.82 882.05 L623.57 882.26 L625.33 882.46 L627.09 882.66 L628.85 882.84 L630.61 883.01 L632.37 883.18 L634.13 883.34 L635.89 883.49 L637.65 883.63 L639.40 883.76 L641.16 883.89 L642.92 884.01 L644.68 884.13 L646.44 884.24 L648.20 884.34 L649.96 884.44 L651.72 884.54 L653.48 884.63 L655.24 884.71 L657.00 884.79 L658.75 884.87 L660.51 884.94 L662.27 885.01 L664.03 885.08 L665.79 885.14 L667.55 885.20 L669.31 885.26 L671.07 885.31 L672.83 885.36 L674.59 885.41 L676.34 885.46 L678.10 885.50 L679.86 885.54 L681.62 885.58 L683.38 885.62 L685.14 885.65 L686.90 885.68 L688.66 885.72 L690.42 885.74 L692.17 885.77 L693.93 885.80 L695.69 885.83 L697.45 885.85 L699.21 885.87 L700.97 885.89 L702.73 885.91 L704.49 885.93 L706.25 885.95 L708.01 885.97 L709.76 885.99 L711.52 886.00 L713.28 886.02 L715.04 886.03 L716.80 886.05 L718.56 886.06 L720.32 886.07 L722.08 886.08 L723.84 886.09 L725.60 886.10 L727.36 886.11 L729.11 886.12 L730.87 886.13 L732.63 886.14 L734.39 886.15 L736.15 886.15 L737.91 886.16 L739.67 886.17 L741.43 886.17 L743.19 886.18 L744.94 886.19 L746.70 886.19 L748.46 886.20 L750.22 886.20 L751.98 886.21 L753.74 886.21 L755.50 886.22 L757.26 886.22 L759.02 886.22 L760.78 886.23 L762.54 886.23 L764.29 886.23 L766.05 886.24 L767.81 886.24 L769.57 886.24 L771.33 886.25 L773.09 886.25 L774.85 886.25 L776.61 886.25 L778.37 886.25 L780.12 886.26 L781.88 886.26 L783.64 886.26 L785.40 886.26 L787.16 886.26 L788.92 886.27 L790.68 886.27 L792.44 886.27 L794.20 886.27 L795.96 886.27 L797.72 886.27 L799.47 886.27 L801.23 886.27 L802.99 886.28 L804.75 886.28 L806.51 886.28 L808.27 886.28 L810.03 886.28 L811.79 886.28 L813.55 886.28 L815.31 886.28 L817.06 886.28 L818.82 886.28 L820.58 886.28 L822.34 886.28 L824.10 886.29" stroke="#0000ff" stroke-dasharray="13.350 13.300"/>
<path d="M120.50 540.37 L122.26 540.38 L124.02 540.39 L125.78 540.40 L127.54 540.41 L129.30 540.42 L131.05 540.43 L132.81 540.44 L134.57 540.45 L136.33 540.47 L138.09 540.48 L139.85 540.49 L141.61 540.51 L143.37 540.52 L145.13 540.53 L146.88 540.55 L148.64 540.56 L150.40 540.58 L152.16 540.60 L153.92 540.61 L155.68 540.63 L157.44 540.65 L159.20 540.67 L160.96 540.69 L162.72 540.71 L164.48 540.73 L166.23 540.75 L167.99 540.77 L169.75 540.79 L171.51 540.81 L173.27 540.84 L175.03 540.86 L176.79 540.89 L178.55 540.91 L180.31 540.94 L182.06 540.97 L183.82 540.99 L185.58 541.02 L187.34 541.05 L189.10 541.09 L190.86 541.12 L192.62 541.15 L194.38 541.19 L196.14 541.22 L197.90 541.26 L199.66 541.30 L201.41 541.34 L203.17 541.38 L204.93 541.42 L206.69 541.46 L208.45 541.51 L210.21 541.55 L211.97 541.60 L213.73 541.65 L215.49 541.70 L217.25 541.75 L219.00 541.81 L220.76 541.87 L222.52 541.92 L224.28 541.98 L226.04 542.05 L227.80 542.11 L229.56 542.18 L231.32 542.25 L233.08 542.32 L234.84 542.39 L236.59 542.47 L238.35 542.55 L240.11 542.63 L241.87 542.72 L243.63 542.80 L245.39 542.90 L247.15 542.99 L248.91 543.09 L250.67 543.19 L252.43 543.29 L254.18 543.40 L255.94 543.52 L257.70 543.63 L259.46 543.75 L261.22 543.88 L262.98 544.01 L264.74 544.14 L266.50 544.28 L268.26 544.43 L270.01 544.58 L271.77 544.74 L273.53 544.90 L275.29 545.07 L277.05 545.24 L278.81 545.42 L280.57 545.61 L282.33 545.80 L284.09 546.01 L285.85 546.22 L287.61 546.43 L289.36 546.66 L291.12 546.90 L292.88 547.14 L294.64 547.39 L296.40 547.66 L298.16 547.93 L299.92 548.22 L301.68 548.51 L303.44 548.82 L305.20 549.14 L306.95 549.47 L308.71 549.81 L310.47 550.17 L312.23 550.54 L313.99 550.93 L315.75 551.33 L317.51 551.75 L319.27 552.18 L321.03 552.63 L322.79 553.10 L324.54 553.58 L326.30 554.09 L328.06 554.62 L329.82 555.16 L331.58 555.73 L333.34 556.32 L335.10 556.93 L336.86 557.56 L338.62 558.22 L340.38 558.91 L342.13 559.62 L343.89 560.36 L345.65 561.13 L347.41 561.92 L349.17 562.75 L350.93 563.60 L352.69 564.49 L354.45 565.41 L356.21 566.37 L357.97 567.36 L359.72 568.39 L361.48 569.45 L363.24 570.55 L365.00 571.69 L366.76 572.87 L368.52 574.10 L370.28 575.36 L372.04 576.67 L373.80 578.02 L375.56 579.42 L377.31 580.86 L379.07 582.35 L380.83 583.89 L382.59 585.48 L384.35 587.11 L386.11 588.80 L387.87 590.54 L389.63 592.33 L391.39 594.17 L393.14 596.07 L394.90 598.02 L396.66 600.02 L398.42 602.08 L400.18 604.19 L401.94 606.36 L403.70 608.59 L405.46 610.86 L407.22 613.20 L408.98 615.59 L410.74 618.03 L412.49 620.53 L414.25 623.08 L416.01 625.68 L417.77 628.34 L419.53 631.05 L421.29 633.81 L423.05 636.62 L424.81 639.48 L426.57 642.38 L428.32 645.34 L430.08 648.34 L431.84 651.38 L433.60 654.46 L435.36 657.59 L437.12 660.75 L438.88 663.95 L440.64 667.19 L442.40 670.46 L444.16 673.76 L445.92 677.08 L447.67 680.44 L449.43 683.82 L451.19 687.22 L452.95 690.64 L454.71 694.08 L456.47 697.53 L458.23 700.99 L459.99 704.47 L461.75 707.95 L463.50 711.43 L465.26 714.92 L467.02 718.41 L468.78 721.90 L470.54 725.38 L472.30 728.85 L474.06 732.32 L475.82 735.77 L477.58 739.21 L479.34 742.63 L481.10 746.03 L482.85 749.41 L484.61 752.77 L486.37 756.10 L488.13 759.41 L489.89 762.68 L491.65 765.92 L493.41 769.13 L495.17 772.31 L496.93 775.45 L498.69 778.55 L500.44 781.61 L502.20 784.63 L503.96 787.60 L505.72 790.53 L507.48 793.42 L509.24 796.26 L511.00 799.05 L512.76 801.80 L514.52 804.49 L516.27 807.13 L518.03 809.73 L519.79 812.27 L521.55 814.76 L523.31 817.19 L525.07 819.58 L526.83 821.91 L528.59 824.18 L530.35 826.40 L532.11 828.57 L533.87 830.68 L535.62 832.74 L537.38 834.75 L539.14 836.70 L540.90 838.60 L542.66 840.44 L544.42 842.24 L546.18 843.98 L547.94 845.67 L549.70 847.30 L551.46 848.89 L553.21 850.43 L554.97 851.91 L556.73 853.35 L558.49 854.75 L560.25 856.09 L562.01 857.39 L563.77 858.64 L565.53 859.85 L567.29 861.02 L569.05 862.14 L570.80 863.23 L572.56 864.27 L574.32 865.27 L576.08 866.24 L577.84 867.16 L579.60 868.06 L581.36 868.91 L583.12 869.73 L584.88 870.52 L586.63 871.28 L588.39 872.00 L590.15 872.70 L591.91 873.36 L593.67 874.00 L595.43 874.61 L597.19 875.19 L598.95 875.75 L600.71 876.28 L602.47 876.79 L604.23 877.27 L605.98 877.74 L607.74 878.18 L609.50 878.60 L611.26 879.00 L613.02 879.39 L614.78 879.75 L616.54 880.10 L618.30 880.43 L620.06 880.75 L621.82 881.05 L623.57 881.34 L625.33 881.61 L627.09 881.87 L628.85 882.11 L630.61 882.34 L632.37 882.57 L634.13 882.78 L635.89 882.97 L637.65 883.16 L639.40 883.34 L641.16 883.51 L642.92 883.68 L644.68 883.83 L646.44 883.97 L648.20 884.11 L649.96 884.24 L651.72 884.36 L653.48 884.48 L655.24 884.59 L657.00 884.69 L658.75 884.79 L660.51 884.89 L662.27 884.97 L664.03 885.06 L665.79 885.14 L667.55 885.21 L669.31 885.28 L671.07 885.35 L672.83 885.41 L674.59 885.47 L676.34 885.52 L678.10 885.57 L679.86 885.62 L681.62 885.67 L683.38 885.71 L685.14 885.76 L686.90 885.79 L688.66 885.83 L690.42 885.86 L692.17 885.90 L693.93 885.93 L695.69 885.95 L697.45 885.98 L699.21 886.01 L700.97 886.03 L702.73 886.05 L704.49 886.07 L706.25 886.09 L708.01 886.11 L709.76 886.13 L711.52 886.14 L713.28 886.16 L715.04 886.17 L716.80 886.18 L718.56 886.20 L720.32 886.21 L722.08 886.22 L723.84 886.23 L725.60 886.24 L727.36 886.25 L729.11 886.25 L730.87 886.26 L732.63 886.27 L734.39 886.27 L736.15 886.28 L737.91 886.28 L739.67 886.29 L741.43 886.29 L743.19 886.30 L744.94 886.30 L746.70 886.31 L748.46 886.31 L750.22 886.31 L751.98 886.31 L753.74 886.32 L755.50 886.32 L757.26 886.32 L759.02 886.32 L760.78 886.32 L762.54 886.33 L764.29 886.33 L766.05 886.33 L767.81 886.33 L769.57 886.33 L771.33 886.33 L773.09 886.33 L774.85 886.33 L776.61 886.33 L778.37 886.33 L780.12 886.33 L781.88 886.33 L783.64 886.33 L785.40 886.33 L787.16 886.33 L788.92 886.33 L790.68 886.33 L792.44 886.33 L794.20 886.33 L795.96 886.33 L797.72 886.33 L799.47 886.33 L801.23 886.33 L802.99 886.33 L804.75 886.33 L806.51 886.33 L808.27 886.33 L810.03 886.33 L811.79 886.33 L813.55 886.33 L815.31 886.33 L817.06 886.33 L818.82 886.33 L820.58 886.33 L822.34 886.33 L824.10 886.33" stroke="#ff0000" stroke-dasharray="33.300 33.280"/>
</g>
<path d="M120.50 894.00v-7.00M120.50 521.70v7.00M155.68 894.00v-4.00M155.68 521.70v4.00M190.86 894.00v-4.00M190.86 521.70v4.00M226.04 894.00v-4.00M226.04 521.70v4.00M261.22 894.00v-4.00M261.22 521.70v4.00M296.40 894.00v-7.00M296.40 521.70v7.00M331.58 894.00v-4.00M331.58 521.70v4.00M366.76 894.00v-4.00M366.76 521.70v4.00M401.94 894.00v-4.00M401.94 521.70v4.00M437.12 894.00v-4.00M437.12 521.70v4.00M472.30 894.00v-7.00M472.30 521.70v7.00M507.48 894.00v-4.00M507.48 521.70v4.00M542.66 894.00v-4.00M542.66 521.70v4.00M577.84 894.00v-4.00M577.84 521.70v4.00M613.02 894.00v-4.00M613.02 521.70v4.00M648.20 894.00v-7.00M648.20 521.70v7.00M683.38 894.00v-4.00M683.38 521.70v4.00M718.56 894.00v-4.00M718.56 521.70v4.00M753.74 894.00v-4.00M753.74 521.70v4.00M788.92 894.00v-4.00M788.92 521.70v4.00M824.10 894.00v-7.00M824.10 521.70v7.00M105.70 886.30h8.80M839.40 886.30h-8.80M105.70 868.98h5.40M839.40 868.98h-5.40M105.70 851.66h5.40M839.40 851.66h-5.40M105.70 834.34h5.40M839.40 834.34h-5.40M105.70 817.02h8.80M839.40 817.02h-8.80M105.70 799.70h5.40M839.40 799.70h-5.40M105.70 782.38h5.40M839.40 782.38h-5.40M105.70 765.06h5.40M839.40 765.06h-5.40M105.70 747.74h8.80M839.40 747.74h-8.80M105.70 730.42h5.40M839.40 730.42h-5.40M105.70 713.10h5.40M839.40 713.10h-5.40M105.70 695.78h5.40M839.40 695.78h-5.40M105.70 678.46h8.80M839.40 678.46h-8.80M105.70 661.14h5.40M839.40 661.14h-5.40M105.70 643.82h5.40M839.40 643.82h-5.40M105.70 626.50h5.40M839.40 626.50h-5.40M105.70 609.18h8.80M839.40 609.18h-8.80M105.70 591.86h5.40M839.40 591.86h-5.40M105.70 574.54h5.40M839.40 574.54h-5.40M105.70 557.22h5.40M839.40 557.22h-5.40M105.70 539.90h8.80M839.40 539.90h-8.80M105.70 522.58h5.40M839.40 522.58h-5.40" stroke="#6b6b6b" stroke-width="1.3" fill="none"/>
<rect x="105.70" y="521.70" width="733.70" height="372.30" fill="none" stroke="#6b6b6b" stroke-width="1.5"/>
<g fill="#000">
<text transform="translate(120.50 922.15) scale(1.2270 1)" font-family="Liberation Sans, sans-serif" text-rendering="geometricPrecision" font-size="25.00" font-weight="bold" text-anchor="middle" stroke="#000" stroke-width="0.5"><tspan dy="3.1">−</tspan><tspan dy="-3.1">10</tspan></text>
<text transform="translate(296.40 922.15) scale(1.2270 1)" font-family="Liberation Sans, sans-serif" text-rendering="geometricPrecision" font-size="25.00" font-weight="bold" text-anchor="middle" stroke="#000" stroke-width="0.5"><tspan dy="3.1">−</tspan><tspan dy="-3.1">5</tspan></text>
<text transform="translate(472.30 922.15) scale(1.1680 1)" font-family="Liberation Sans, sans-serif" text-rendering="geometricPrecision" font-size="25.00" font-weight="bold" text-anchor="middle" stroke="#000" stroke-width="0.5">0</text>
<text transform="translate(648.20 922.15) scale(1.1680 1)" font-family="Liberation Sans, sans-serif" text-rendering="geometricPrecision" font-size="25.00" font-weight="bold" text-anchor="middle" stroke="#000" stroke-width="0.5">5</text>
<text transform="translate(824.10 922.15) scale(1.1680 1)" font-family="Liberation Sans, sans-serif" text-rendering="geometricPrecision" font-size="25.00" font-weight="bold" text-anchor="middle" stroke="#000" stroke-width="0.5">10</text>
<text transform="translate(98.40 894.90) scale(1.2050 1)" font-family="Liberation Sans, sans-serif" text-rendering="geometricPrecision" font-size="25.00" font-weight="bold" text-anchor="end" stroke="#000" stroke-width="0.5">0.0</text>
<text transform="translate(98.40 825.62) scale(1.2050 1)" font-family="Liberation Sans, sans-serif" text-rendering="geometricPrecision" font-size="25.00" font-weight="bold" text-anchor="end" stroke="#000" stroke-width="0.5">0.2</text>
<text transform="translate(98.40 756.34) scale(1.2050 1)" font-family="Liberation Sans, sans-serif" text-rendering="geometricPrecision" font-size="25.00" font-weight="bold" text-anchor="end" stroke="#000" stroke-width="0.5">0.4</text>
<text transform="translate(98.40 687.06) scale(1.2050 1)" font-family="Liberation Sans, sans-serif" text-rendering="geometricPrecision" font-size="25.00" font-weight="bold" text-anchor="end" stroke="#000" stroke-width="0.5">0.6</text>
<text transform="translate(98.40 617.78) scale(1.2050 1)" font-family="Liberation Sans, sans-serif" text-rendering="geometricPrecision" font-size="25.00" font-weight="bold" text-anchor="end" stroke="#000" stroke-width="0.5">0.8</text>
<text transform="translate(98.40 548.50) scale(1.2050 1)" font-family="Liberation Sans, sans-serif" text-rendering="geometricPrecision" font-size="25.00" font-weight="bold" text-anchor="end" stroke="#000" stroke-width="0.5">1.0</text>
<text transform="translate(472.30 969.90) scale(1.3070 1)" font-family="Liberation Sans, sans-serif" text-rendering="geometricPrecision" font-size="30.80" font-weight="bold" text-anchor="middle" stroke="#000" stroke-width="0.6">x</text>
<text transform="translate(28.40 708.70) scale(1.1800 1) rotate(-90)" font-family="Liberation Sans, sans-serif" text-rendering="geometricPrecision" font-size="32.40" font-weight="bold" text-anchor="middle" stroke="#000" stroke-width="0.6">p(x,t)</text>
</g>
<rect x="135.50" y="746.50" width="135.00" height="128.00" fill="#fff" stroke="#606060" stroke-width="1"/>
<g fill="#000">
<line x1="142.00" y1="770.20" x2="183.00" y2="770.20" stroke="#000" stroke-width="3"/>
<text transform="translate(187.70 777.20) scale(1.1600 1)" font-family="Liberation Sans, sans-serif" text-rendering="geometricPrecision" font-size="21.70" font-weight="normal" text-anchor="start" stroke="#000" stroke-width="0.25">t=0</text>
<line x1="142.00" y1="810.50" x2="183.00" y2="810.50" stroke="#0000ff" stroke-width="3" stroke-dasharray="4.9 4.15"/>
<text transform="translate(187.70 817.50) scale(1.1600 1)" font-family="Liberation Sans, sans-serif" text-rendering="geometricPrecision" font-size="21.70" font-weight="normal" text-anchor="start" stroke="#000" stroke-width="0.25">t=0.3</text>
<line x1="142.00" y1="850.60" x2="183.00" y2="850.60" stroke="#ff0000" stroke-width="3" stroke-dasharray="11.6 10.8"/>
<text transform="translate(187.70 857.60) scale(1.1600 1)" font-family="Liberation Sans, sans-serif" text-rendering="geometricPrecision" font-size="21.70" font-weight="normal" text-anchor="start" stroke="#000" stroke-width="0.25">t=0.5</text>
</g>
</g>
<g id="plot4">
<clipPath id="clip4"><rect x="1028.30" y="518.90" width="741.50" height="377.00"/></clipPath>
<line x1="1399.20" y1="518.90" x2="1399.20" y2="895.90" stroke="#8a8a8a" stroke-width="1.1"/>
<g clip-path="url(#clip4)" fill="none" stroke-width="4.30" stroke-linejoin="round">
<path d="M1043.20 547.63 L1044.98 547.69 L1046.76 547.75 L1048.54 547.82 L1050.32 547.88 L1052.10 547.95 L1053.88 548.03 L1055.66 548.10 L1057.44 548.17 L1059.22 548.25 L1061.00 548.33 L1062.78 548.42 L1064.56 548.50 L1066.34 548.59 L1068.12 548.68 L1069.90 548.77 L1071.68 548.86 L1073.46 548.96 L1075.24 549.06 L1077.02 549.17 L1078.80 549.27 L1080.58 549.38 L1082.36 549.50 L1084.14 549.61 L1085.92 549.73 L1087.70 549.85 L1089.48 549.98 L1091.26 550.11 L1093.04 550.24 L1094.82 550.38 L1096.60 550.52 L1098.38 550.67 L1100.16 550.82 L1101.94 550.97 L1103.72 551.13 L1105.50 551.29 L1107.28 551.46 L1109.06 551.63 L1110.84 551.81 L1112.62 551.99 L1114.40 552.18 L1116.18 552.37 L1117.96 552.57 L1119.74 552.77 L1121.52 552.98 L1123.30 553.20 L1125.08 553.42 L1126.86 553.65 L1128.64 553.88 L1130.42 554.12 L1132.20 554.37 L1133.98 554.62 L1135.76 554.89 L1137.54 555.15 L1139.32 555.43 L1141.10 555.72 L1142.88 556.01 L1144.66 556.31 L1146.44 556.62 L1148.22 556.93 L1150.00 557.26 L1151.78 557.60 L1153.56 557.94 L1155.34 558.30 L1157.12 558.66 L1158.90 559.03 L1160.68 559.42 L1162.46 559.81 L1164.24 560.22 L1166.02 560.63 L1167.80 561.06 L1169.58 561.50 L1171.36 561.95 L1173.14 562.42 L1174.92 562.89 L1176.70 563.38 L1178.48 563.89 L1180.26 564.40 L1182.04 564.93 L1183.82 565.48 L1185.60 566.03 L1187.38 566.61 L1189.16 567.20 L1190.94 567.80 L1192.72 568.42 L1194.50 569.06 L1196.28 569.71 L1198.06 570.38 L1199.84 571.07 L1201.62 571.77 L1203.40 572.50 L1205.18 573.24 L1206.96 574.00 L1208.74 574.78 L1210.52 575.58 L1212.30 576.40 L1214.08 577.24 L1215.86 578.11 L1217.64 578.99 L1219.42 579.90 L1221.20 580.82 L1222.98 581.78 L1224.76 582.75 L1226.54 583.75 L1228.32 584.77 L1230.10 585.82 L1231.88 586.89 L1233.66 587.99 L1235.44 589.11 L1237.22 590.26 L1239.00 591.44 L1240.78 592.64 L1242.56 593.87 L1244.34 595.13 L1246.12 596.42 L1247.90 597.73 L1249.68 599.08 L1251.46 600.46 L1253.24 601.86 L1255.02 603.30 L1256.80 604.76 L1258.58 606.26 L1260.36 607.79 L1262.14 609.35 L1263.92 610.95 L1265.70 612.57 L1267.48 614.23 L1269.26 615.93 L1271.04 617.65 L1272.82 619.41 L1274.60 621.20 L1276.38 623.03 L1278.16 624.89 L1279.94 626.79 L1281.72 628.71 L1283.50 630.68 L1285.28 632.68 L1287.06 634.71 L1288.84 636.78 L1290.62 638.88 L1292.40 641.01 L1294.18 643.18 L1295.96 645.38 L1297.74 647.62 L1299.52 649.89 L1301.30 652.20 L1303.08 654.53 L1304.86 656.90 L1306.64 659.30 L1308.42 661.73 L1310.20 664.20 L1311.98 666.69 L1313.76 669.22 L1315.54 671.77 L1317.32 674.35 L1319.10 676.96 L1320.88 679.60 L1322.66 682.26 L1324.44 684.95 L1326.22 687.67 L1328.00 690.40 L1329.78 693.16 L1331.56 695.94 L1333.34 698.74 L1335.12 701.56 L1336.90 704.40 L1338.68 707.25 L1340.46 710.12 L1342.24 713.00 L1344.02 715.89 L1345.80 718.80 L1347.58 721.71 L1349.36 724.63 L1351.14 727.56 L1352.92 730.49 L1354.70 733.43 L1356.48 736.37 L1358.26 739.30 L1360.04 742.24 L1361.82 745.17 L1363.60 748.10 L1365.38 751.02 L1367.16 753.94 L1368.94 756.84 L1370.72 759.73 L1372.50 762.61 L1374.28 765.47 L1376.06 768.32 L1377.84 771.15 L1379.62 773.95 L1381.40 776.74 L1383.18 779.51 L1384.96 782.25 L1386.74 784.96 L1388.52 787.65 L1390.30 790.31 L1392.08 792.93 L1393.86 795.53 L1395.64 798.10 L1397.42 800.63 L1399.20 803.12 L1400.98 805.59 L1402.76 808.01 L1404.54 810.40 L1406.32 812.74 L1408.10 815.05 L1409.88 817.32 L1411.66 819.55 L1413.44 821.73 L1415.22 823.88 L1417.00 825.98 L1418.78 828.04 L1420.56 830.05 L1422.34 832.03 L1424.12 833.95 L1425.90 835.84 L1427.68 837.68 L1429.46 839.47 L1431.24 841.22 L1433.02 842.93 L1434.80 844.60 L1436.58 846.22 L1438.36 847.79 L1440.14 849.33 L1441.92 850.82 L1443.70 852.27 L1445.48 853.67 L1447.26 855.04 L1449.04 856.36 L1450.82 857.64 L1452.60 858.89 L1454.38 860.09 L1456.16 861.26 L1457.94 862.38 L1459.72 863.48 L1461.50 864.53 L1463.28 865.55 L1465.06 866.53 L1466.84 867.48 L1468.62 868.39 L1470.40 869.28 L1472.18 870.13 L1473.96 870.94 L1475.74 871.73 L1477.52 872.49 L1479.30 873.22 L1481.08 873.92 L1482.86 874.60 L1484.64 875.25 L1486.42 875.87 L1488.20 876.47 L1489.98 877.04 L1491.76 877.59 L1493.54 878.12 L1495.32 878.62 L1497.10 879.11 L1498.88 879.57 L1500.66 880.02 L1502.44 880.44 L1504.22 880.85 L1506.00 881.24 L1507.78 881.61 L1509.56 881.97 L1511.34 882.31 L1513.12 882.63 L1514.90 882.94 L1516.68 883.24 L1518.46 883.52 L1520.24 883.79 L1522.02 884.05 L1523.80 884.29 L1525.58 884.53 L1527.36 884.75 L1529.14 884.96 L1530.92 885.17 L1532.70 885.36 L1534.48 885.54 L1536.26 885.72 L1538.04 885.89 L1539.82 886.05 L1541.60 886.20 L1543.38 886.34 L1545.16 886.48 L1546.94 886.61 L1548.72 886.73 L1550.50 886.85 L1552.28 886.96 L1554.06 887.06 L1555.84 887.17 L1557.62 887.26 L1559.40 887.35 L1561.18 887.44 L1562.96 887.52 L1564.74 887.60 L1566.52 887.67 L1568.30 887.74 L1570.08 887.81 L1571.86 887.87 L1573.64 887.93 L1575.42 887.99 L1577.20 888.04 L1578.98 888.09 L1580.76 888.14 L1582.54 888.19 L1584.32 888.23 L1586.10 888.27 L1587.88 888.31 L1589.66 888.35 L1591.44 888.38 L1593.22 888.42 L1595.00 888.45 L1596.78 888.48 L1598.56 888.51 L1600.34 888.53 L1602.12 888.56 L1603.90 888.58 L1605.68 888.60 L1607.46 888.63 L1609.24 888.65 L1611.02 888.67 L1612.80 888.68 L1614.58 888.70 L1616.36 888.72 L1618.14 888.73 L1619.92 888.75 L1621.70 888.76 L1623.48 888.77 L1625.26 888.79 L1627.04 888.80 L1628.82 888.81 L1630.60 888.82 L1632.38 888.83 L1634.16 888.84 L1635.94 888.85 L1637.72 888.86 L1639.50 888.86 L1641.28 888.87 L1643.06 888.88 L1644.84 888.89 L1646.62 888.89 L1648.40 888.90 L1650.18 888.90 L1651.96 888.91 L1653.74 888.91 L1655.52 888.92 L1657.30 888.92 L1659.08 888.93 L1660.86 888.93 L1662.64 888.93 L1664.42 888.94 L1666.20 888.94 L1667.98 888.95 L1669.76 888.95 L1671.54 888.95 L1673.32 888.95 L1675.10 888.96 L1676.88 888.96 L1678.66 888.96 L1680.44 888.96 L1682.22 888.97 L1684.00 888.97 L1685.78 888.97 L1687.56 888.97 L1689.34 888.97 L1691.12 888.97 L1692.90 888.98 L1694.68 888.98 L1696.46 888.98 L1698.24 888.98 L1700.02 888.98 L1701.80 888.98 L1703.58 888.98 L1705.36 888.98 L1707.14 888.98 L1708.92 888.99 L1710.70 888.99 L1712.48 888.99 L1714.26 888.99 L1716.04 888.99 L1717.82 888.99 L1719.60 888.99 L1721.38 888.99 L1723.16 888.99 L1724.94 888.99 L1726.72 888.99 L1728.50 888.99 L1730.28 888.99 L1732.06 888.99 L1733.84 888.99 L1735.62 888.99 L1737.40 888.99 L1739.18 888.99 L1740.96 888.99 L1742.74 889.00 L1744.52 889.00 L1746.30 889.00 L1748.08 889.00 L1749.86 889.00 L1751.64 889.00 L1753.42 889.00 L1755.20 889.00" stroke="#000" stroke-linecap="square"/>
<path d="M1043.20 546.73 L1044.98 546.75 L1046.76 546.76 L1048.54 546.78 L1050.32 546.80 L1052.10 546.81 L1053.88 546.83 L1055.66 546.85 L1057.44 546.87 L1059.22 546.89 L1061.00 546.91 L1062.78 546.93 L1064.56 546.96 L1066.34 546.98 L1068.12 547.00 L1069.90 547.03 L1071.68 547.05 L1073.46 547.08 L1075.24 547.10 L1077.02 547.13 L1078.80 547.16 L1080.58 547.19 L1082.36 547.22 L1084.14 547.25 L1085.92 547.28 L1087.70 547.31 L1089.48 547.35 L1091.26 547.38 L1093.04 547.42 L1094.82 547.45 L1096.60 547.49 L1098.38 547.53 L1100.16 547.57 L1101.94 547.62 L1103.72 547.66 L1105.50 547.71 L1107.28 547.75 L1109.06 547.80 L1110.84 547.85 L1112.62 547.90 L1114.40 547.95 L1116.18 548.01 L1117.96 548.06 L1119.74 548.12 L1121.52 548.18 L1123.30 548.25 L1125.08 548.31 L1126.86 548.38 L1128.64 548.44 L1130.42 548.52 L1132.20 548.59 L1133.98 548.66 L1135.76 548.74 L1137.54 548.82 L1139.32 548.91 L1141.10 548.99 L1142.88 549.08 L1144.66 549.17 L1146.44 549.27 L1148.22 549.37 L1150.00 549.47 L1151.78 549.58 L1153.56 549.69 L1155.34 549.80 L1157.12 549.91 L1158.90 550.04 L1160.68 550.16 L1162.46 550.29 L1164.24 550.42 L1166.02 550.56 L1167.80 550.70 L1169.58 550.85 L1171.36 551.01 L1173.14 551.17 L1174.92 551.33 L1176.70 551.50 L1178.48 551.68 L1180.26 551.86 L1182.04 552.05 L1183.82 552.24 L1185.60 552.44 L1187.38 552.65 L1189.16 552.87 L1190.94 553.09 L1192.72 553.33 L1194.50 553.57 L1196.28 553.82 L1198.06 554.07 L1199.84 554.34 L1201.62 554.62 L1203.40 554.90 L1205.18 555.20 L1206.96 555.51 L1208.74 555.82 L1210.52 556.15 L1212.30 556.49 L1214.08 556.85 L1215.86 557.21 L1217.64 557.59 L1219.42 557.98 L1221.20 558.39 L1222.98 558.81 L1224.76 559.24 L1226.54 559.69 L1228.32 560.16 L1230.10 560.64 L1231.88 561.14 L1233.66 561.65 L1235.44 562.18 L1237.22 562.74 L1239.00 563.31 L1240.78 563.90 L1242.56 564.51 L1244.34 565.14 L1246.12 565.79 L1247.90 566.46 L1249.68 567.16 L1251.46 567.88 L1253.24 568.62 L1255.02 569.38 L1256.80 570.18 L1258.58 570.99 L1260.36 571.84 L1262.14 572.71 L1263.92 573.61 L1265.70 574.53 L1267.48 575.49 L1269.26 576.47 L1271.04 577.49 L1272.82 578.54 L1274.60 579.61 L1276.38 580.72 L1278.16 581.87 L1279.94 583.04 L1281.72 584.25 L1283.50 585.50 L1285.28 586.78 L1287.06 588.09 L1288.84 589.45 L1290.62 590.84 L1292.40 592.26 L1294.18 593.73 L1295.96 595.23 L1297.74 596.77 L1299.52 598.36 L1301.30 599.98 L1303.08 601.64 L1304.86 603.35 L1306.64 605.09 L1308.42 606.88 L1310.20 608.71 L1311.98 610.58 L1313.76 612.50 L1315.54 614.45 L1317.32 616.45 L1319.10 618.50 L1320.88 620.58 L1322.66 622.71 L1324.44 624.89 L1326.22 627.11 L1328.00 629.37 L1329.78 631.67 L1331.56 634.02 L1333.34 636.41 L1335.12 638.85 L1336.90 641.32 L1338.68 643.84 L1340.46 646.41 L1342.24 649.01 L1344.02 651.66 L1345.80 654.34 L1347.58 657.07 L1349.36 659.84 L1351.14 662.64 L1352.92 665.49 L1354.70 668.37 L1356.48 671.28 L1358.26 674.23 L1360.04 677.22 L1361.82 680.23 L1363.60 683.28 L1365.38 686.36 L1367.16 689.47 L1368.94 692.60 L1370.72 695.76 L1372.50 698.94 L1374.28 702.14 L1376.06 705.36 L1377.84 708.60 L1379.62 711.86 L1381.40 715.12 L1383.18 718.40 L1384.96 721.69 L1386.74 724.98 L1388.52 728.28 L1390.30 731.57 L1392.08 734.87 L1393.86 738.16 L1395.64 741.45 L1397.42 744.72 L1399.20 747.99 L1400.98 751.24 L1402.76 754.47 L1404.54 757.69 L1406.32 760.88 L1408.10 764.05 L1409.88 767.20 L1411.66 770.31 L1413.44 773.40 L1415.22 776.45 L1417.00 779.47 L1418.78 782.45 L1420.56 785.39 L1422.34 788.29 L1424.12 791.15 L1425.90 793.97 L1427.68 796.74 L1429.46 799.47 L1431.24 802.15 L1433.02 804.78 L1434.80 807.36 L1436.58 809.89 L1438.36 812.37 L1440.14 814.80 L1441.92 817.18 L1443.70 819.51 L1445.48 821.79 L1447.26 824.01 L1449.04 826.18 L1450.82 828.30 L1452.60 830.37 L1454.38 832.38 L1456.16 834.35 L1457.94 836.26 L1459.72 838.12 L1461.50 839.93 L1463.28 841.69 L1465.06 843.41 L1466.84 845.07 L1468.62 846.69 L1470.40 848.25 L1472.18 849.78 L1473.96 851.26 L1475.74 852.69 L1477.52 854.08 L1479.30 855.42 L1481.08 856.72 L1482.86 857.99 L1484.64 859.21 L1486.42 860.39 L1488.20 861.53 L1489.98 862.64 L1491.76 863.71 L1493.54 864.74 L1495.32 865.73 L1497.10 866.70 L1498.88 867.62 L1500.66 868.52 L1502.44 869.38 L1504.22 870.22 L1506.00 871.02 L1507.78 871.79 L1509.56 872.54 L1511.34 873.26 L1513.12 873.95 L1514.90 874.61 L1516.68 875.25 L1518.46 875.87 L1520.24 876.46 L1522.02 877.02 L1523.80 877.57 L1525.58 878.09 L1527.36 878.60 L1529.14 879.08 L1530.92 879.54 L1532.70 879.98 L1534.48 880.41 L1536.26 880.82 L1538.04 881.21 L1539.82 881.58 L1541.60 881.94 L1543.38 882.28 L1545.16 882.61 L1546.94 882.92 L1548.72 883.22 L1550.50 883.51 L1552.28 883.78 L1554.06 884.05 L1555.84 884.29 L1557.62 884.53 L1559.40 884.76 L1561.18 884.98 L1562.96 885.18 L1564.74 885.38 L1566.52 885.57 L1568.30 885.75 L1570.08 885.92 L1571.86 886.08 L1573.64 886.24 L1575.42 886.39 L1577.20 886.53 L1578.98 886.66 L1580.76 886.79 L1582.54 886.91 L1584.32 887.02 L1586.10 887.13 L1587.88 887.23 L1589.66 887.33 L1591.44 887.42 L1593.22 887.51 L1595.00 887.60 L1596.78 887.68 L1598.56 887.75 L1600.34 887.82 L1602.12 887.89 L1603.90 887.96 L1605.68 888.02 L1607.46 888.07 L1609.24 888.13 L1611.02 888.18 L1612.80 888.23 L1614.58 888.28 L1616.36 888.32 L1618.14 888.36 L1619.92 888.40 L1621.70 888.44 L1623.48 888.47 L1625.26 888.51 L1627.04 888.54 L1628.82 888.57 L1630.60 888.59 L1632.38 888.62 L1634.16 888.65 L1635.94 888.67 L1637.72 888.69 L1639.50 888.71 L1641.28 888.73 L1643.06 888.75 L1644.84 888.77 L1646.62 888.78 L1648.40 888.80 L1650.18 888.81 L1651.96 888.83 L1653.74 888.84 L1655.52 888.85 L1657.30 888.86 L1659.08 888.87 L1660.86 888.88 L1662.64 888.89 L1664.42 888.90 L1666.20 888.91 L1667.98 888.92 L1669.76 888.92 L1671.54 888.93 L1673.32 888.94 L1675.10 888.94 L1676.88 888.95 L1678.66 888.95 L1680.44 888.96 L1682.22 888.96 L1684.00 888.97 L1685.78 888.97 L1687.56 888.97 L1689.34 888.98 L1691.12 888.98 L1692.90 888.98 L1694.68 888.99 L1696.46 888.99 L1698.24 888.99 L1700.02 888.99 L1701.80 889.00 L1703.58 889.00 L1705.36 889.00 L1707.14 889.00 L1708.92 889.00 L1710.70 889.00 L1712.48 889.00 L1714.26 889.01 L1716.04 889.01 L1717.82 889.01 L1719.60 889.01 L1721.38 889.01 L1723.16 889.01 L1724.94 889.01 L1726.72 889.01 L1728.50 889.01 L1730.28 889.01 L1732.06 889.01 L1733.84 889.01 L1735.62 889.01 L1737.40 889.01 L1739.18 889.01 L1740.96 889.01 L1742.74 889.01 L1744.52 889.01 L1746.30 889.01 L1748.08 889.01 L1749.86 889.01 L1751.64 889.01 L1753.42 889.01 L1755.20 889.01" stroke="#0000ff" stroke-dasharray="13.492 13.441"/>
<path d="M1043.20 544.51 L1044.98 544.49 L1046.76 544.47 L1048.54 544.45 L1050.32 544.42 L1052.10 544.40 L1053.88 544.38 L1055.66 544.36 L1057.44 544.33 L1059.22 544.31 L1061.00 544.28 L1062.78 544.25 L1064.56 544.23 L1066.34 544.20 L1068.12 544.17 L1069.90 544.14 L1071.68 544.11 L1073.46 544.08 L1075.24 544.05 L1077.02 544.02 L1078.80 543.98 L1080.58 543.95 L1082.36 543.91 L1084.14 543.88 L1085.92 543.84 L1087.70 543.80 L1089.48 543.77 L1091.26 543.73 L1093.04 543.68 L1094.82 543.64 L1096.60 543.60 L1098.38 543.56 L1100.16 543.51 L1101.94 543.46 L1103.72 543.42 L1105.50 543.37 L1107.28 543.32 L1109.06 543.27 L1110.84 543.22 L1112.62 543.16 L1114.40 543.11 L1116.18 543.05 L1117.96 543.00 L1119.74 542.94 L1121.52 542.88 L1123.30 542.82 L1125.08 542.75 L1126.86 542.69 L1128.64 542.63 L1130.42 542.56 L1132.20 542.49 L1133.98 542.42 L1135.76 542.35 L1137.54 542.28 L1139.32 542.21 L1141.10 542.13 L1142.88 542.05 L1144.66 541.98 L1146.44 541.90 L1148.22 541.81 L1150.00 541.73 L1151.78 541.65 L1153.56 541.56 L1155.34 541.48 L1157.12 541.39 L1158.90 541.30 L1160.68 541.21 L1162.46 541.11 L1164.24 541.02 L1166.02 540.93 L1167.80 540.83 L1169.58 540.73 L1171.36 540.63 L1173.14 540.53 L1174.92 540.43 L1176.70 540.33 L1178.48 540.23 L1180.26 540.13 L1182.04 540.02 L1183.82 539.92 L1185.60 539.81 L1187.38 539.71 L1189.16 539.60 L1190.94 539.50 L1192.72 539.39 L1194.50 539.29 L1196.28 539.18 L1198.06 539.08 L1199.84 538.98 L1201.62 538.87 L1203.40 538.77 L1205.18 538.67 L1206.96 538.58 L1208.74 538.48 L1210.52 538.39 L1212.30 538.30 L1214.08 538.21 L1215.86 538.12 L1217.64 538.04 L1219.42 537.97 L1221.20 537.89 L1222.98 537.83 L1224.76 537.77 L1226.54 537.71 L1228.32 537.66 L1230.10 537.62 L1231.88 537.58 L1233.66 537.55 L1235.44 537.54 L1237.22 537.53 L1239.00 537.53 L1240.78 537.54 L1242.56 537.56 L1244.34 537.60 L1246.12 537.64 L1247.90 537.71 L1249.68 537.78 L1251.46 537.87 L1253.24 537.98 L1255.02 538.11 L1256.80 538.25 L1258.58 538.42 L1260.36 538.60 L1262.14 538.81 L1263.92 539.03 L1265.70 539.29 L1267.48 539.56 L1269.26 539.87 L1271.04 540.20 L1272.82 540.56 L1274.60 540.95 L1276.38 541.37 L1278.16 541.82 L1279.94 542.31 L1281.72 542.83 L1283.50 543.39 L1285.28 543.99 L1287.06 544.63 L1288.84 545.31 L1290.62 546.03 L1292.40 546.79 L1294.18 547.61 L1295.96 548.46 L1297.74 549.37 L1299.52 550.33 L1301.30 551.33 L1303.08 552.39 L1304.86 553.51 L1306.64 554.68 L1308.42 555.90 L1310.20 557.18 L1311.98 558.52 L1313.76 559.93 L1315.54 561.39 L1317.32 562.91 L1319.10 564.50 L1320.88 566.15 L1322.66 567.87 L1324.44 569.65 L1326.22 571.50 L1328.00 573.42 L1329.78 575.40 L1331.56 577.45 L1333.34 579.57 L1335.12 581.76 L1336.90 584.01 L1338.68 586.33 L1340.46 588.72 L1342.24 591.18 L1344.02 593.71 L1345.80 596.30 L1347.58 598.96 L1349.36 601.68 L1351.14 604.47 L1352.92 607.32 L1354.70 610.24 L1356.48 613.21 L1358.26 616.25 L1360.04 619.34 L1361.82 622.49 L1363.60 625.70 L1365.38 628.96 L1367.16 632.27 L1368.94 635.63 L1370.72 639.04 L1372.50 642.49 L1374.28 645.99 L1376.06 649.53 L1377.84 653.11 L1379.62 656.72 L1381.40 660.37 L1383.18 664.05 L1384.96 667.76 L1386.74 671.49 L1388.52 675.25 L1390.30 679.03 L1392.08 682.83 L1393.86 686.64 L1395.64 690.46 L1397.42 694.30 L1399.20 698.14 L1400.98 701.98 L1402.76 705.83 L1404.54 709.68 L1406.32 713.52 L1408.10 717.35 L1409.88 721.18 L1411.66 724.99 L1413.44 728.78 L1415.22 732.56 L1417.00 736.32 L1418.78 740.06 L1420.56 743.77 L1422.34 747.45 L1424.12 751.10 L1425.90 754.71 L1427.68 758.30 L1429.46 761.84 L1431.24 765.35 L1433.02 768.81 L1434.80 772.23 L1436.58 775.61 L1438.36 778.93 L1440.14 782.21 L1441.92 785.44 L1443.70 788.62 L1445.48 791.74 L1447.26 794.81 L1449.04 797.82 L1450.82 800.78 L1452.60 803.68 L1454.38 806.51 L1456.16 809.29 L1457.94 812.01 L1459.72 814.67 L1461.50 817.27 L1463.28 819.81 L1465.06 822.28 L1466.84 824.69 L1468.62 827.04 L1470.40 829.33 L1472.18 831.56 L1473.96 833.73 L1475.74 835.84 L1477.52 837.88 L1479.30 839.87 L1481.08 841.79 L1482.86 843.66 L1484.64 845.47 L1486.42 847.22 L1488.20 848.92 L1489.98 850.56 L1491.76 852.14 L1493.54 853.68 L1495.32 855.15 L1497.10 856.58 L1498.88 857.96 L1500.66 859.29 L1502.44 860.57 L1504.22 861.80 L1506.00 862.99 L1507.78 864.13 L1509.56 865.23 L1511.34 866.28 L1513.12 867.30 L1514.90 868.27 L1516.68 869.21 L1518.46 870.11 L1520.24 870.97 L1522.02 871.79 L1523.80 872.58 L1525.58 873.34 L1527.36 874.07 L1529.14 874.77 L1530.92 875.43 L1532.70 876.07 L1534.48 876.68 L1536.26 877.26 L1538.04 877.82 L1539.82 878.35 L1541.60 878.86 L1543.38 879.35 L1545.16 879.81 L1546.94 880.25 L1548.72 880.68 L1550.50 881.08 L1552.28 881.46 L1554.06 881.83 L1555.84 882.18 L1557.62 882.51 L1559.40 882.83 L1561.18 883.14 L1562.96 883.42 L1564.74 883.70 L1566.52 883.96 L1568.30 884.21 L1570.08 884.45 L1571.86 884.67 L1573.64 884.89 L1575.42 885.09 L1577.20 885.28 L1578.98 885.47 L1580.76 885.64 L1582.54 885.81 L1584.32 885.97 L1586.10 886.12 L1587.88 886.26 L1589.66 886.40 L1591.44 886.53 L1593.22 886.65 L1595.00 886.77 L1596.78 886.88 L1598.56 886.99 L1600.34 887.09 L1602.12 887.18 L1603.90 887.27 L1605.68 887.36 L1607.46 887.44 L1609.24 887.52 L1611.02 887.59 L1612.80 887.66 L1614.58 887.73 L1616.36 887.79 L1618.14 887.85 L1619.92 887.91 L1621.70 887.96 L1623.48 888.01 L1625.26 888.06 L1627.04 888.11 L1628.82 888.15 L1630.60 888.19 L1632.38 888.23 L1634.16 888.27 L1635.94 888.31 L1637.72 888.34 L1639.50 888.37 L1641.28 888.40 L1643.06 888.43 L1644.84 888.46 L1646.62 888.49 L1648.40 888.51 L1650.18 888.53 L1651.96 888.56 L1653.74 888.58 L1655.52 888.60 L1657.30 888.62 L1659.08 888.64 L1660.86 888.65 L1662.64 888.67 L1664.42 888.68 L1666.20 888.70 L1667.98 888.71 L1669.76 888.73 L1671.54 888.74 L1673.32 888.75 L1675.10 888.76 L1676.88 888.77 L1678.66 888.78 L1680.44 888.79 L1682.22 888.80 L1684.00 888.81 L1685.78 888.82 L1687.56 888.83 L1689.34 888.84 L1691.12 888.84 L1692.90 888.85 L1694.68 888.86 L1696.46 888.86 L1698.24 888.87 L1700.02 888.88 L1701.80 888.88 L1703.58 888.89 L1705.36 888.89 L1707.14 888.90 L1708.92 888.90 L1710.70 888.90 L1712.48 888.91 L1714.26 888.91 L1716.04 888.92 L1717.82 888.92 L1719.60 888.92 L1721.38 888.93 L1723.16 888.93 L1724.94 888.93 L1726.72 888.93 L1728.50 888.94 L1730.28 888.94 L1732.06 888.94 L1733.84 888.94 L1735.62 888.95 L1737.40 888.95 L1739.18 888.95 L1740.96 888.95 L1742.74 888.95 L1744.52 888.96 L1746.30 888.96 L1748.08 888.96 L1749.86 888.96 L1751.64 888.96 L1753.42 888.96 L1755.20 888.97" stroke="#ff0000" stroke-dasharray="33.653 33.633"/>
</g>
<path d="M1043.20 895.90v-7.00M1043.20 518.90v7.00M1078.80 895.90v-4.00M1078.80 518.90v4.00M1114.40 895.90v-4.00M1114.40 518.90v4.00M1150.00 895.90v-4.00M1150.00 518.90v4.00M1185.60 895.90v-4.00M1185.60 518.90v4.00M1221.20 895.90v-7.00M1221.20 518.90v7.00M1256.80 895.90v-4.00M1256.80 518.90v4.00M1292.40 895.90v-4.00M1292.40 518.90v4.00M1328.00 895.90v-4.00M1328.00 518.90v4.00M1363.60 895.90v-4.00M1363.60 518.90v4.00M1399.20 895.90v-7.00M1399.20 518.90v7.00M1434.80 895.90v-4.00M1434.80 518.90v4.00M1470.40 895.90v-4.00M1470.40 518.90v4.00M1506.00 895.90v-4.00M1506.00 518.90v4.00M1541.60 895.90v-4.00M1541.60 518.90v4.00M1577.20 895.90v-7.00M1577.20 518.90v7.00M1612.80 895.90v-4.00M1612.80 518.90v4.00M1648.40 895.90v-4.00M1648.40 518.90v4.00M1684.00 895.90v-4.00M1684.00 518.90v4.00M1719.60 895.90v-4.00M1719.60 518.90v4.00M1755.20 895.90v-7.00M1755.20 518.90v7.00M1028.30 889.00h8.80M1769.80 889.00h-8.80M1028.30 875.26h5.40M1769.80 875.26h-5.40M1028.30 861.52h5.40M1769.80 861.52h-5.40M1028.30 847.78h5.40M1769.80 847.78h-5.40M1028.30 834.04h5.40M1769.80 834.04h-5.40M1028.30 820.30h8.80M1769.80 820.30h-8.80M1028.30 806.56h5.40M1769.80 806.56h-5.40M1028.30 792.82h5.40M1769.80 792.82h-5.40M1028.30 779.08h5.40M1769.80 779.08h-5.40M1028.30 765.34h5.40M1769.80 765.34h-5.40M1028.30 751.60h8.80M1769.80 751.60h-8.80M1028.30 737.86h5.40M1769.80 737.86h-5.40M1028.30 724.12h5.40M1769.80 724.12h-5.40M1028.30 710.38h5.40M1769.80 710.38h-5.40M1028.30 696.64h5.40M1769.80 696.64h-5.40M1028.30 682.90h8.80M1769.80 682.90h-8.80M1028.30 669.16h5.40M1769.80 669.16h-5.40M1028.30 655.42h5.40M1769.80 655.42h-5.40M1028.30 641.68h5.40M1769.80 641.68h-5.40M1028.30 627.94h5.40M1769.80 627.94h-5.40M1028.30 614.20h8.80M1769.80 614.20h-8.80M1028.30 600.46h5.40M1769.80 600.46h-5.40M1028.30 586.72h5.40M1769.80 586.72h-5.40M1028.30 572.98h5.40M1769.80 572.98h-5.40M1028.30 559.24h5.40M1769.80 559.24h-5.40M1028.30 545.50h8.80M1769.80 545.50h-8.80M1028.30 531.76h5.40M1769.80 531.76h-5.40" stroke="#6b6b6b" stroke-width="1.3" fill="none"/>
<rect x="1028.30" y="518.90" width="741.50" height="377.00" fill="none" stroke="#6b6b6b" stroke-width="1.5"/>
<g fill="#000">
<text transform="translate(1043.20 924.05) scale(1.2270 1)" font-family="Liberation Sans, sans-serif" text-rendering="geometricPrecision" font-size="25.00" font-weight="bold" text-anchor="middle" stroke="#000" stroke-width="0.5"><tspan dy="3.1">−</tspan><tspan dy="-3.1">10</tspan></text>
<text transform="translate(1221.20 924.05) scale(1.2270 1)" font-family="Liberation Sans, sans-serif" text-rendering="geometricPrecision" font-size="25.00" font-weight="bold" text-anchor="middle" stroke="#000" stroke-width="0.5"><tspan dy="3.1">−</tspan><tspan dy="-3.1">5</tspan></text>
<text transform="translate(1399.20 924.05) scale(1.1680 1)" font-family="Liberation Sans, sans-serif" text-rendering="geometricPrecision" font-size="25.00" font-weight="bold" text-anchor="middle" stroke="#000" stroke-width="0.5">0</text>
<text transform="translate(1577.20 924.05) scale(1.1680 1)" font-family="Liberation Sans, sans-serif" text-rendering="geometricPrecision" font-size="25.00" font-weight="bold" text-anchor="middle" stroke="#000" stroke-width="0.5">5</text>
<text transform="translate(1755.20 924.05) scale(1.1680 1)" font-family="Liberation Sans, sans-serif" text-rendering="geometricPrecision" font-size="25.00" font-weight="bold" text-anchor="middle" stroke="#000" stroke-width="0.5">10</text>
<text transform="translate(1021.00 897.60) scale(1.2050 1)" font-family="Liberation Sans, sans-serif" text-rendering="geometricPrecision" font-size="25.00" font-weight="bold" text-anchor="end" stroke="#000" stroke-width="0.5">0.0</text>
<text transform="translate(1021.00 828.90) scale(1.2050 1)" font-family="Liberation Sans, sans-serif" text-rendering="geometricPrecision" font-size="25.00" font-weight="bold" text-anchor="end" stroke="#000" stroke-width="0.5">0.1</text>
<text transform="translate(1021.00 760.20) scale(1.2050 1)" font-family="Liberation Sans, sans-serif" text-rendering="geometricPrecision" font-size="25.00" font-weight="bold" text-anchor="end" stroke="#000" stroke-width="0.5">0.2</text>
<text transform="translate(1021.00 691.50) scale(1.2050 1)" font-family="Liberation Sans, sans-serif" text-rendering="geometricPrecision" font-size="25.00" font-weight="bold" text-anchor="end" stroke="#000" stroke-width="0.5">0.3</text>
<text transform="translate(1021.00 622.80) scale(1.2050 1)" font-family="Liberation Sans, sans-serif" text-rendering="geometricPrecision" font-size="25.00" font-weight="bold" text-anchor="end" stroke="#000" stroke-width="0.5">0.4</text>
<text transform="translate(1021.00 554.10) scale(1.2050 1)" font-family="Liberation Sans, sans-serif" text-rendering="geometricPrecision" font-size="25.00" font-weight="bold" text-anchor="end" stroke="#000" stroke-width="0.5">0.5</text>
<text transform="translate(1399.20 971.40) scale(1.3070 1)" font-family="Liberation Sans, sans-serif" text-rendering="geometricPrecision" font-size="30.80" font-weight="bold" text-anchor="middle" stroke="#000" stroke-width="0.6">x</text>
<text transform="translate(955.80 709.50) scale(1.1800 1) rotate(-90)" font-family="Liberation Sans, sans-serif" text-rendering="geometricPrecision" font-size="32.40" font-weight="bold" text-anchor="middle" stroke="#000" stroke-width="0.6">w(x,t)</text>
</g>
<rect x="1055.50" y="739.00" width="139.00" height="139.00" fill="#fff" stroke="#606060" stroke-width="1"/>
<g fill="#000">
<line x1="1062.90" y1="764.60" x2="1105.60" y2="764.60" stroke="#000" stroke-width="3"/>
<text transform="translate(1109.70 771.60) scale(1.1600 1)" font-family="Liberation Sans, sans-serif" text-rendering="geometricPrecision" font-size="21.70" font-weight="normal" text-anchor="start" stroke="#000" stroke-width="0.25">t=0</text>
<line x1="1062.90" y1="808.50" x2="1105.60" y2="808.50" stroke="#0000ff" stroke-width="3" stroke-dasharray="4.9 4.15"/>
<text transform="translate(1109.70 815.50) scale(1.1600 1)" font-family="Liberation Sans, sans-serif" text-rendering="geometricPrecision" font-size="21.70" font-weight="normal" text-anchor="start" stroke="#000" stroke-width="0.25">t=0.3</text>
<line x1="1062.90" y1="852.10" x2="1105.60" y2="852.10" stroke="#ff0000" stroke-width="3" stroke-dasharray="11.6 10.8"/>
<text transform="translate(1109.70 859.10) scale(1.1600 1)" font-family="Liberation Sans, sans-serif" text-rendering="geometricPrecision" font-size="21.70" font-weight="normal" text-anchor="start" stroke="#000" stroke-width="0.25">t=0.5</text>
</g>
</g>
</svg></body></html>
